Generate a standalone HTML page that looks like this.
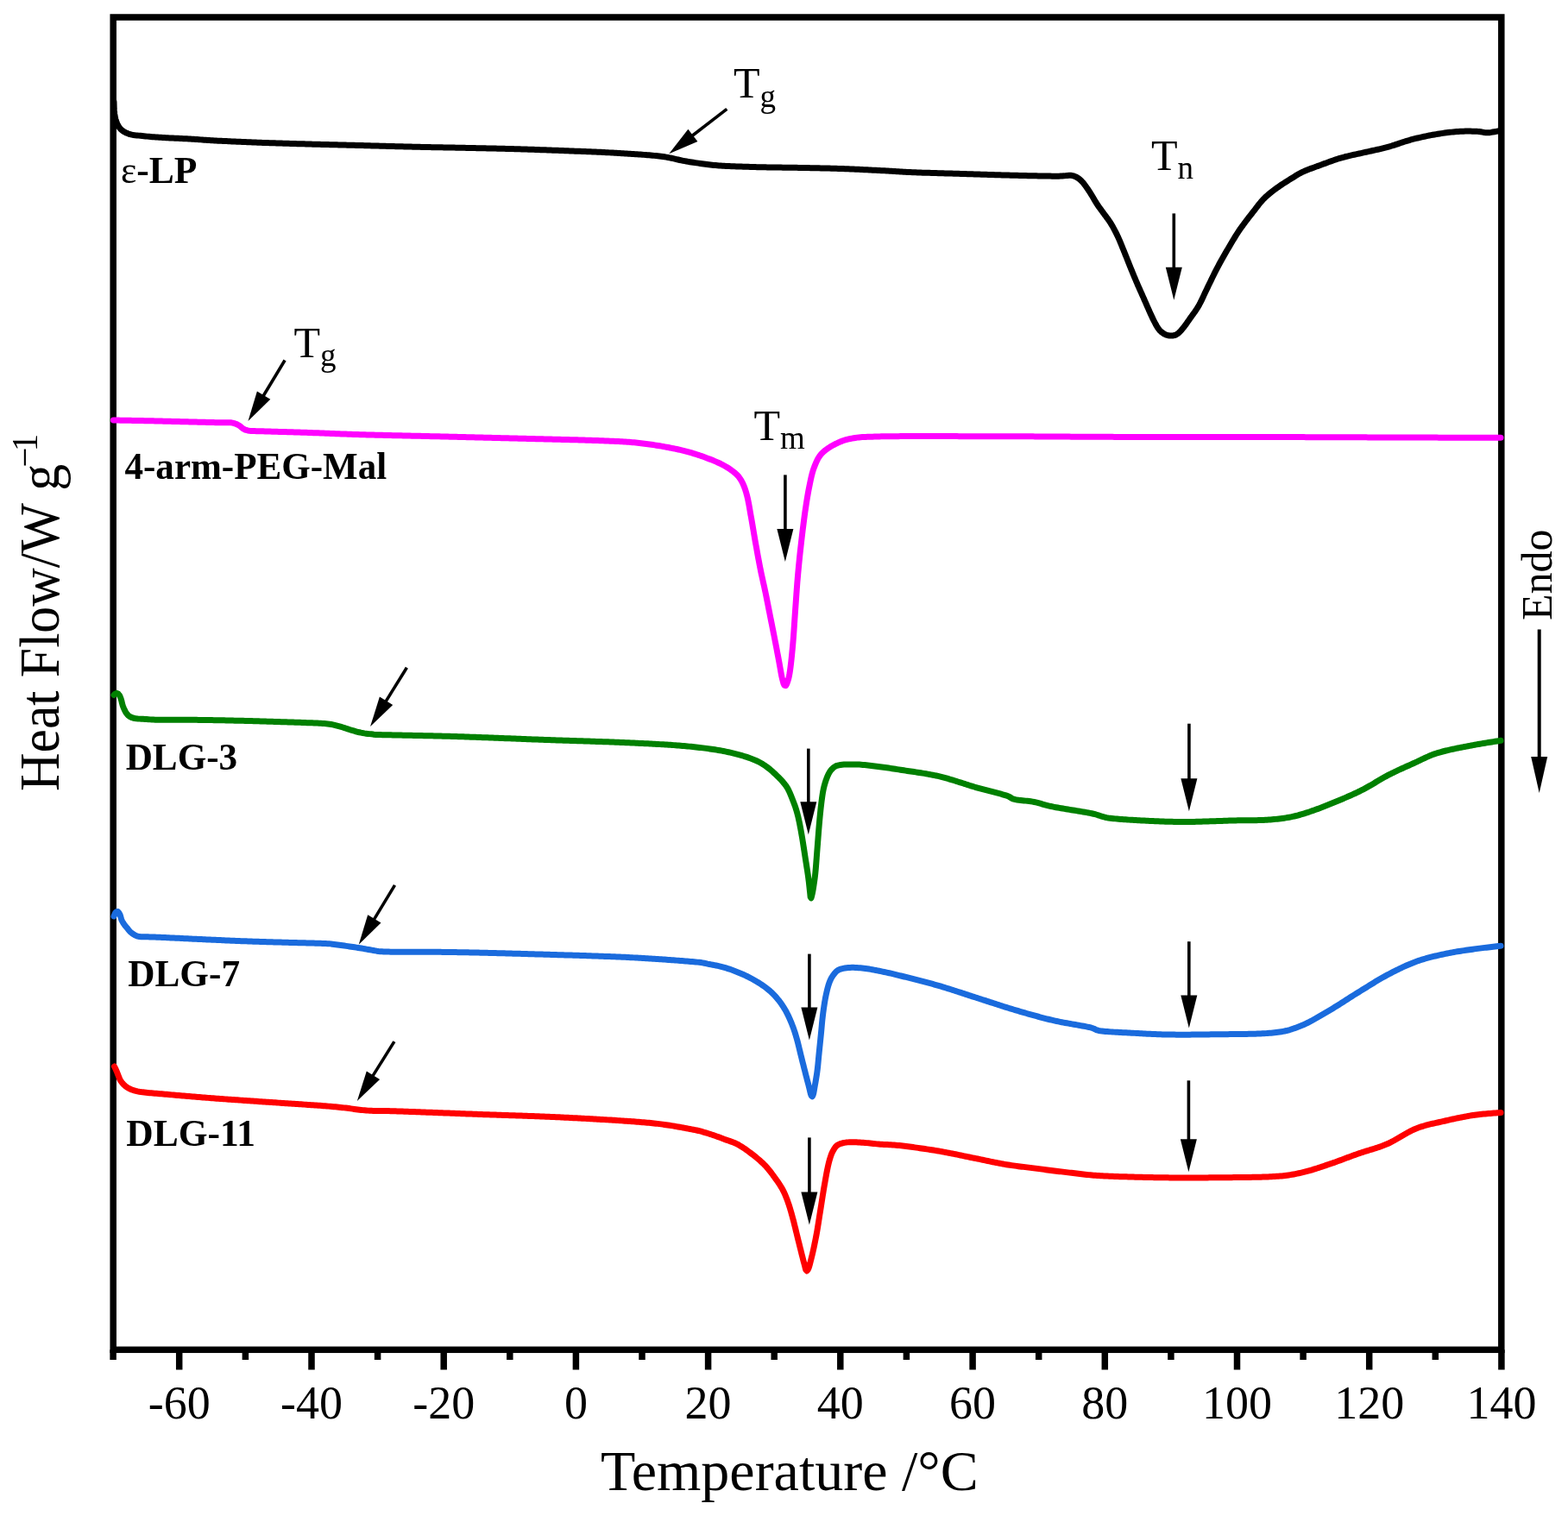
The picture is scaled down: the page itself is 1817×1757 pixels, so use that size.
<!DOCTYPE html>
<html><head><meta charset="utf-8"><style>
html,body{margin:0;padding:0;background:#fff;}
svg{display:block;}
text{font-family:"Liberation Serif","Times New Roman",serif;fill:#000;}
.tl{font-size:54px;}
.lb{font-size:45px;font-weight:bold;}
.tt{font-size:50px;}
.sub{font-size:37px;}
.xt{font-size:66px;}
.yt{font-size:65px;}
.sup{font-size:43px;}
.endo{font-size:50px;}
</style></head><body>
<svg width="1817" height="1757" viewBox="0 0 1817 1757" xmlns="http://www.w3.org/2000/svg">
<rect width="1817" height="1757" fill="#fff"/>
<rect x="131.2" y="20.0" width="1608.6" height="1544.3" fill="none" stroke="#000" stroke-width="7.5"/><line x1="131.1" y1="1564.3" x2="131.1" y2="1576.0" stroke="#000" stroke-width="7.5"/><line x1="207.7" y1="1564.3" x2="207.7" y2="1587.5" stroke="#000" stroke-width="7.5"/><line x1="284.4" y1="1564.3" x2="284.4" y2="1576.0" stroke="#000" stroke-width="7.5"/><line x1="361.0" y1="1564.3" x2="361.0" y2="1587.5" stroke="#000" stroke-width="7.5"/><line x1="437.6" y1="1564.3" x2="437.6" y2="1576.0" stroke="#000" stroke-width="7.5"/><line x1="514.2" y1="1564.3" x2="514.2" y2="1587.5" stroke="#000" stroke-width="7.5"/><line x1="590.8" y1="1564.3" x2="590.8" y2="1576.0" stroke="#000" stroke-width="7.5"/><line x1="667.4" y1="1564.3" x2="667.4" y2="1587.5" stroke="#000" stroke-width="7.5"/><line x1="744.0" y1="1564.3" x2="744.0" y2="1576.0" stroke="#000" stroke-width="7.5"/><line x1="820.6" y1="1564.3" x2="820.6" y2="1587.5" stroke="#000" stroke-width="7.5"/><line x1="897.2" y1="1564.3" x2="897.2" y2="1576.0" stroke="#000" stroke-width="7.5"/><line x1="973.8" y1="1564.3" x2="973.8" y2="1587.5" stroke="#000" stroke-width="7.5"/><line x1="1050.4" y1="1564.3" x2="1050.4" y2="1576.0" stroke="#000" stroke-width="7.5"/><line x1="1127.1" y1="1564.3" x2="1127.1" y2="1587.5" stroke="#000" stroke-width="7.5"/><line x1="1203.7" y1="1564.3" x2="1203.7" y2="1576.0" stroke="#000" stroke-width="7.5"/><line x1="1280.3" y1="1564.3" x2="1280.3" y2="1587.5" stroke="#000" stroke-width="7.5"/><line x1="1356.9" y1="1564.3" x2="1356.9" y2="1576.0" stroke="#000" stroke-width="7.5"/><line x1="1433.5" y1="1564.3" x2="1433.5" y2="1587.5" stroke="#000" stroke-width="7.5"/><line x1="1510.1" y1="1564.3" x2="1510.1" y2="1576.0" stroke="#000" stroke-width="7.5"/><line x1="1586.7" y1="1564.3" x2="1586.7" y2="1587.5" stroke="#000" stroke-width="7.5"/><line x1="1663.3" y1="1564.3" x2="1663.3" y2="1576.0" stroke="#000" stroke-width="7.5"/><line x1="1739.9" y1="1564.3" x2="1739.9" y2="1587.5" stroke="#000" stroke-width="7.5"/><text x="207.7" y="1644.3" text-anchor="middle" class="tl">-60</text><text x="361.0" y="1644.3" text-anchor="middle" class="tl">-40</text><text x="514.2" y="1644.3" text-anchor="middle" class="tl">-20</text><text x="667.4" y="1644.3" text-anchor="middle" class="tl">0</text><text x="820.6" y="1644.3" text-anchor="middle" class="tl">20</text><text x="973.8" y="1644.3" text-anchor="middle" class="tl">40</text><text x="1127.1" y="1644.3" text-anchor="middle" class="tl">60</text><text x="1280.3" y="1644.3" text-anchor="middle" class="tl">80</text><text x="1433.5" y="1644.3" text-anchor="middle" class="tl">100</text><text x="1586.7" y="1644.3" text-anchor="middle" class="tl">120</text><text x="1739.9" y="1644.3" text-anchor="middle" class="tl">140</text>
<path d="M132.00,118.00 L132.04,120.00 L132.09,122.00 L132.14,124.00 L132.22,126.00 L132.33,127.99 L132.49,129.99 L132.71,131.98 L132.99,133.96 L133.35,135.92 L133.81,137.87 L134.37,139.79 L135.05,141.67 L135.84,143.51 L136.75,145.29 L137.79,147.00 L138.97,148.61 L140.33,150.08 L141.84,151.38 L143.49,152.51 L145.23,153.49 L147.05,154.33 L148.92,155.03 L150.83,155.61 L152.77,156.09 L154.74,156.45 L156.72,156.72 L158.71,156.94 L160.70,157.14 L162.69,157.34 L164.68,157.54 L166.67,157.73 L168.66,157.92 L170.65,158.11 L172.65,158.29 L174.64,158.47 L176.63,158.64 L178.62,158.80 L180.62,158.95 L182.61,159.10 L184.61,159.23 L186.60,159.36 L188.60,159.48 L190.60,159.59 L192.59,159.70 L194.59,159.80 L196.59,159.90 L198.59,159.99 L200.59,160.08 L202.58,160.17 L204.58,160.26 L206.58,160.35 L208.58,160.44 L210.58,160.54 L212.57,160.63 L214.57,160.72 L216.57,160.82 L218.57,160.92 L220.56,161.03 L222.56,161.15 L224.56,161.27 L226.55,161.41 L228.55,161.55 L230.54,161.71 L232.53,161.87 L234.53,162.03 L236.52,162.19 L238.52,162.33 L240.51,162.47 L242.51,162.59 L244.50,162.71 L246.50,162.82 L248.50,162.93 L250.49,163.03 L252.49,163.13 L254.49,163.23 L256.49,163.33 L258.48,163.43 L260.48,163.52 L262.48,163.62 L264.48,163.71 L266.48,163.80 L268.47,163.89 L270.47,163.98 L272.47,164.07 L274.47,164.16 L276.47,164.25 L278.46,164.34 L280.46,164.42 L282.46,164.51 L284.46,164.59 L286.46,164.67 L288.46,164.76 L290.45,164.84 L292.45,164.92 L294.45,165.00 L296.45,165.08 L298.45,165.15 L300.45,165.23 L302.44,165.30 L304.44,165.38 L306.44,165.45 L308.44,165.52 L310.44,165.59 L312.44,165.66 L314.44,165.73 L316.44,165.79 L318.44,165.86 L320.43,165.92 L322.43,165.99 L324.43,166.05 L326.43,166.11 L328.43,166.17 L330.43,166.23 L332.43,166.29 L334.43,166.35 L336.43,166.41 L338.43,166.47 L340.43,166.53 L342.42,166.58 L344.42,166.64 L346.42,166.70 L348.42,166.75 L350.42,166.81 L352.42,166.86 L354.42,166.92 L356.42,166.97 L358.42,167.02 L360.42,167.08 L362.42,167.13 L364.42,167.18 L366.42,167.23 L368.41,167.28 L370.41,167.34 L372.41,167.39 L374.41,167.44 L376.41,167.49 L378.41,167.54 L380.41,167.59 L382.41,167.64 L384.41,167.69 L386.41,167.74 L388.41,167.79 L390.41,167.84 L392.41,167.89 L394.41,167.94 L396.41,168.00 L398.41,168.05 L400.40,168.10 L402.40,168.15 L404.40,168.20 L406.40,168.25 L408.40,168.30 L410.40,168.35 L412.40,168.40 L414.40,168.45 L416.40,168.51 L418.40,168.56 L420.40,168.61 L422.40,168.66 L424.40,168.72 L426.40,168.77 L428.39,168.83 L430.39,168.88 L432.39,168.94 L434.39,168.99 L436.39,169.05 L438.39,169.11 L440.39,169.17 L442.39,169.22 L444.39,169.28 L446.39,169.34 L448.39,169.39 L450.39,169.45 L452.39,169.51 L454.38,169.56 L456.38,169.61 L458.38,169.67 L460.38,169.72 L462.38,169.77 L464.38,169.82 L466.38,169.87 L468.38,169.92 L470.38,169.97 L472.38,170.02 L474.38,170.07 L476.38,170.12 L478.38,170.16 L480.38,170.21 L482.38,170.25 L484.38,170.30 L486.38,170.34 L488.37,170.38 L490.37,170.42 L492.37,170.47 L494.37,170.51 L496.37,170.55 L498.37,170.59 L500.37,170.63 L502.37,170.67 L504.37,170.70 L506.37,170.74 L508.37,170.78 L510.37,170.82 L512.37,170.86 L514.37,170.90 L516.37,170.93 L518.37,170.97 L520.37,171.01 L522.37,171.05 L524.37,171.09 L526.37,171.12 L528.37,171.16 L530.37,171.20 L532.37,171.24 L534.37,171.28 L536.37,171.32 L538.37,171.36 L540.36,171.39 L542.36,171.43 L544.36,171.47 L546.36,171.51 L548.36,171.55 L550.36,171.59 L552.36,171.63 L554.36,171.67 L556.36,171.72 L558.36,171.76 L560.36,171.80 L562.36,171.84 L564.36,171.88 L566.36,171.93 L568.36,171.97 L570.36,172.02 L572.36,172.06 L574.36,172.11 L576.36,172.16 L578.36,172.20 L580.36,172.25 L582.35,172.30 L584.35,172.35 L586.35,172.40 L588.35,172.46 L590.35,172.51 L592.35,172.57 L594.35,172.62 L596.35,172.68 L598.35,172.74 L600.35,172.80 L602.35,172.86 L604.35,172.92 L606.35,172.98 L608.34,173.04 L610.34,173.10 L612.34,173.17 L614.34,173.23 L616.34,173.30 L618.34,173.36 L620.34,173.43 L622.34,173.50 L624.34,173.57 L626.33,173.64 L628.33,173.71 L630.33,173.78 L632.33,173.85 L634.33,173.92 L636.33,173.99 L638.33,174.06 L640.33,174.14 L642.32,174.21 L644.32,174.29 L646.32,174.36 L648.32,174.44 L650.32,174.51 L652.32,174.59 L654.32,174.66 L656.31,174.74 L658.31,174.82 L660.31,174.90 L662.31,174.98 L664.31,175.05 L666.31,175.13 L668.30,175.21 L670.30,175.29 L672.30,175.37 L674.30,175.45 L676.30,175.53 L678.30,175.61 L680.30,175.69 L682.29,175.77 L684.29,175.86 L686.29,175.94 L688.29,176.02 L690.29,176.11 L692.28,176.19 L694.28,176.28 L696.28,176.37 L698.28,176.47 L700.28,176.56 L702.27,176.66 L704.27,176.76 L706.27,176.87 L708.27,176.98 L710.26,177.09 L712.26,177.20 L714.26,177.32 L716.25,177.44 L718.25,177.56 L720.24,177.69 L722.24,177.82 L724.24,177.94 L726.23,178.07 L728.23,178.19 L730.22,178.32 L732.22,178.44 L734.22,178.57 L736.21,178.70 L738.21,178.83 L740.20,178.97 L742.20,179.10 L744.19,179.24 L746.19,179.38 L748.18,179.53 L750.18,179.69 L752.17,179.84 L754.16,180.01 L756.16,180.18 L758.15,180.37 L760.14,180.56 L762.13,180.77 L764.12,180.99 L766.10,181.23 L768.08,181.50 L770.06,181.79 L772.04,182.11 L774.00,182.47 L775.97,182.85 L777.93,183.25 L779.88,183.68 L781.83,184.12 L783.78,184.57 L785.73,185.03 L787.68,185.47 L789.63,185.90 L791.59,186.31 L793.55,186.68 L795.52,187.04 L797.49,187.38 L799.47,187.70 L801.44,188.01 L803.42,188.31 L805.40,188.60 L807.38,188.88 L809.36,189.15 L811.34,189.41 L813.32,189.68 L815.31,189.95 L817.29,190.23 L819.27,190.50 L821.25,190.75 L823.24,191.00 L825.22,191.22 L827.21,191.42 L829.21,191.60 L831.20,191.77 L833.19,191.91 L835.19,192.05 L837.19,192.17 L839.18,192.28 L841.18,192.38 L843.18,192.48 L845.18,192.57 L847.17,192.66 L849.17,192.74 L851.17,192.82 L853.17,192.90 L855.17,192.97 L857.17,193.04 L859.16,193.11 L861.16,193.18 L863.16,193.24 L865.16,193.30 L867.16,193.36 L869.16,193.42 L871.16,193.48 L873.16,193.53 L875.16,193.59 L877.16,193.64 L879.16,193.68 L881.16,193.73 L883.16,193.77 L885.16,193.81 L887.16,193.84 L889.15,193.88 L891.15,193.91 L893.15,193.94 L895.15,193.97 L897.15,194.00 L899.15,194.02 L901.15,194.05 L903.15,194.08 L905.15,194.10 L907.15,194.13 L909.15,194.15 L911.15,194.18 L913.15,194.21 L915.15,194.24 L917.15,194.27 L919.15,194.30 L921.15,194.33 L923.15,194.37 L925.15,194.40 L927.15,194.44 L929.15,194.48 L931.15,194.51 L933.15,194.55 L935.15,194.59 L937.15,194.62 L939.15,194.66 L941.15,194.69 L943.15,194.73 L945.15,194.77 L947.15,194.81 L949.15,194.84 L951.15,194.88 L953.15,194.93 L955.15,194.97 L957.15,195.01 L959.14,195.06 L961.14,195.11 L963.14,195.16 L965.14,195.21 L967.14,195.27 L969.14,195.33 L971.14,195.39 L973.14,195.45 L975.14,195.52 L977.14,195.59 L979.14,195.67 L981.13,195.74 L983.13,195.82 L985.13,195.91 L987.13,195.99 L989.13,196.08 L991.12,196.17 L993.12,196.26 L995.12,196.35 L997.12,196.45 L999.12,196.54 L1001.11,196.64 L1003.11,196.74 L1005.11,196.84 L1007.11,196.94 L1009.10,197.04 L1011.10,197.14 L1013.10,197.24 L1015.10,197.34 L1017.09,197.45 L1019.09,197.55 L1021.09,197.65 L1023.09,197.75 L1025.08,197.86 L1027.08,197.97 L1029.08,198.08 L1031.07,198.20 L1033.07,198.32 L1035.07,198.44 L1037.06,198.57 L1039.06,198.70 L1041.05,198.83 L1043.05,198.96 L1045.04,199.08 L1047.04,199.20 L1049.04,199.31 L1051.04,199.42 L1053.03,199.52 L1055.03,199.61 L1057.03,199.70 L1059.03,199.78 L1061.03,199.86 L1063.02,199.93 L1065.02,200.00 L1067.02,200.07 L1069.02,200.13 L1071.02,200.19 L1073.02,200.26 L1075.02,200.32 L1077.02,200.37 L1079.02,200.43 L1081.02,200.49 L1083.01,200.54 L1085.01,200.60 L1087.01,200.66 L1089.01,200.71 L1091.01,200.77 L1093.01,200.82 L1095.01,200.88 L1097.01,200.94 L1099.01,200.99 L1101.01,201.05 L1103.01,201.11 L1105.01,201.17 L1107.01,201.23 L1109.00,201.29 L1111.00,201.35 L1113.00,201.42 L1115.00,201.48 L1117.00,201.54 L1119.00,201.61 L1121.00,201.67 L1123.00,201.73 L1125.00,201.80 L1127.00,201.86 L1128.99,201.92 L1130.99,201.99 L1132.99,202.05 L1134.99,202.11 L1136.99,202.18 L1138.99,202.24 L1140.99,202.30 L1142.99,202.36 L1144.99,202.43 L1146.99,202.49 L1148.98,202.55 L1150.98,202.61 L1152.98,202.67 L1154.98,202.73 L1156.98,202.79 L1158.98,202.84 L1160.98,202.90 L1162.98,202.96 L1164.98,203.01 L1166.98,203.07 L1168.98,203.12 L1170.98,203.17 L1172.97,203.22 L1174.97,203.27 L1176.97,203.32 L1178.97,203.37 L1180.97,203.42 L1182.97,203.47 L1184.97,203.51 L1186.97,203.56 L1188.97,203.60 L1190.97,203.65 L1192.97,203.69 L1194.97,203.73 L1196.97,203.77 L1198.97,203.82 L1200.97,203.86 L1202.97,203.89 L1204.97,203.93 L1206.97,203.97 L1208.97,204.00 L1210.97,204.04 L1212.97,204.07 L1214.97,204.10 L1216.97,204.12 L1218.97,204.15 L1220.97,204.17 L1222.97,204.19 L1224.97,204.18 L1226.96,204.16 L1228.96,204.10 L1230.96,204.01 L1232.96,203.85 L1234.94,203.60 L1236.93,203.39 L1238.92,203.27 L1240.92,203.30 L1242.90,203.59 L1244.82,204.15 L1246.66,204.94 L1248.42,205.89 L1250.08,207.00 L1251.63,208.25 L1253.09,209.63 L1254.46,211.08 L1255.75,212.61 L1256.97,214.19 L1258.15,215.81 L1259.31,217.44 L1260.44,219.09 L1261.56,220.74 L1262.67,222.41 L1263.75,224.09 L1264.81,225.79 L1265.84,227.50 L1266.86,229.22 L1267.87,230.95 L1268.88,232.67 L1269.91,234.39 L1270.97,236.08 L1272.07,237.76 L1273.20,239.41 L1274.36,241.04 L1275.53,242.66 L1276.71,244.27 L1277.89,245.89 L1279.07,247.50 L1280.26,249.11 L1281.46,250.71 L1282.66,252.31 L1283.84,253.92 L1284.99,255.56 L1286.11,257.21 L1287.19,258.90 L1288.23,260.61 L1289.24,262.34 L1290.21,264.08 L1291.16,265.84 L1292.09,267.61 L1293.00,269.39 L1293.89,271.18 L1294.76,272.98 L1295.62,274.79 L1296.44,276.61 L1297.25,278.45 L1298.04,280.28 L1298.81,282.13 L1299.56,283.98 L1300.31,285.83 L1301.06,287.69 L1301.81,289.55 L1302.56,291.40 L1303.31,293.25 L1304.05,295.11 L1304.80,296.97 L1305.54,298.82 L1306.28,300.68 L1307.01,302.54 L1307.75,304.40 L1308.49,306.26 L1309.24,308.11 L1309.99,309.97 L1310.75,311.82 L1311.50,313.67 L1312.26,315.52 L1313.02,317.37 L1313.79,319.22 L1314.56,321.06 L1315.33,322.91 L1316.11,324.75 L1316.89,326.59 L1317.68,328.43 L1318.47,330.27 L1319.27,332.10 L1320.08,333.93 L1320.89,335.76 L1321.71,337.58 L1322.53,339.41 L1323.35,341.23 L1324.16,343.06 L1324.98,344.88 L1325.79,346.71 L1326.59,348.54 L1327.39,350.38 L1328.18,352.21 L1328.98,354.05 L1329.78,355.88 L1330.58,357.71 L1331.40,359.54 L1332.22,361.36 L1333.05,363.18 L1333.88,365.00 L1334.72,366.82 L1335.58,368.62 L1336.45,370.42 L1337.35,372.21 L1338.27,373.99 L1339.21,375.75 L1340.17,377.50 L1341.19,379.23 L1342.28,380.90 L1343.50,382.48 L1344.88,383.93 L1346.39,385.24 L1348.03,386.39 L1349.76,387.38 L1351.60,388.18 L1353.51,388.74 L1355.49,389.04 L1357.49,389.11 L1359.48,388.93 L1361.42,388.48 L1363.26,387.69 L1364.93,386.60 L1366.44,385.29 L1367.84,383.86 L1369.17,382.37 L1370.46,380.84 L1371.72,379.28 L1372.93,377.69 L1374.11,376.08 L1375.26,374.44 L1376.40,372.80 L1377.55,371.16 L1378.70,369.52 L1379.86,367.90 L1381.04,366.28 L1382.21,364.66 L1383.38,363.04 L1384.53,361.40 L1385.66,359.75 L1386.76,358.08 L1387.83,356.39 L1388.85,354.67 L1389.84,352.93 L1390.78,351.17 L1391.68,349.38 L1392.56,347.59 L1393.42,345.78 L1394.27,343.97 L1395.11,342.15 L1395.95,340.34 L1396.79,338.53 L1397.65,336.72 L1398.51,334.91 L1399.38,333.11 L1400.25,331.31 L1401.12,329.51 L1401.99,327.71 L1402.86,325.91 L1403.73,324.11 L1404.61,322.31 L1405.49,320.51 L1406.37,318.72 L1407.26,316.93 L1408.15,315.14 L1409.06,313.35 L1409.97,311.58 L1410.90,309.81 L1411.84,308.04 L1412.79,306.28 L1413.75,304.53 L1414.72,302.78 L1415.70,301.03 L1416.69,299.29 L1417.68,297.56 L1418.67,295.82 L1419.67,294.08 L1420.66,292.35 L1421.66,290.62 L1422.66,288.88 L1423.66,287.16 L1424.67,285.43 L1425.68,283.70 L1426.70,281.98 L1427.73,280.26 L1428.76,278.55 L1429.80,276.84 L1430.84,275.13 L1431.89,273.43 L1432.94,271.73 L1434.01,270.04 L1435.11,268.37 L1436.23,266.71 L1437.37,265.07 L1438.52,263.44 L1439.70,261.82 L1440.88,260.21 L1442.08,258.61 L1443.29,257.01 L1444.50,255.42 L1445.71,253.83 L1446.93,252.24 L1448.16,250.66 L1449.39,249.09 L1450.62,247.51 L1451.85,245.93 L1453.07,244.35 L1454.29,242.77 L1455.51,241.18 L1456.72,239.59 L1457.95,238.01 L1459.19,236.44 L1460.46,234.89 L1461.75,233.37 L1463.08,231.88 L1464.45,230.42 L1465.87,229.01 L1467.32,227.63 L1468.81,226.30 L1470.33,225.00 L1471.88,223.73 L1473.44,222.49 L1475.03,221.27 L1476.63,220.06 L1478.23,218.87 L1479.85,217.70 L1481.48,216.54 L1483.12,215.39 L1484.77,214.26 L1486.44,213.16 L1488.11,212.06 L1489.80,210.99 L1491.49,209.92 L1493.18,208.86 L1494.88,207.81 L1496.59,206.75 L1498.29,205.70 L1499.99,204.65 L1501.69,203.60 L1503.40,202.56 L1505.12,201.55 L1506.88,200.59 L1508.66,199.69 L1510.47,198.83 L1512.30,198.02 L1514.15,197.26 L1516.01,196.53 L1517.88,195.82 L1519.75,195.12 L1521.63,194.44 L1523.52,193.76 L1525.40,193.08 L1527.27,192.39 L1529.15,191.70 L1531.03,191.01 L1532.90,190.31 L1534.77,189.61 L1536.65,188.91 L1538.53,188.22 L1540.40,187.53 L1542.29,186.86 L1544.17,186.19 L1546.06,185.53 L1547.95,184.89 L1549.86,184.27 L1551.76,183.67 L1553.68,183.09 L1555.60,182.54 L1557.53,182.01 L1559.46,181.51 L1561.41,181.03 L1563.35,180.56 L1565.30,180.12 L1567.25,179.68 L1569.21,179.25 L1571.16,178.83 L1573.12,178.41 L1575.07,177.99 L1577.03,177.56 L1578.98,177.13 L1580.93,176.69 L1582.88,176.25 L1584.83,175.82 L1586.79,175.39 L1588.74,174.96 L1590.70,174.54 L1592.65,174.12 L1594.60,173.69 L1596.56,173.26 L1598.51,172.82 L1600.46,172.36 L1602.40,171.90 L1604.34,171.42 L1606.28,170.92 L1608.21,170.39 L1610.13,169.85 L1612.05,169.27 L1613.96,168.68 L1615.86,168.07 L1617.76,167.44 L1619.66,166.81 L1621.55,166.17 L1623.45,165.53 L1625.35,164.90 L1627.25,164.28 L1629.16,163.67 L1631.07,163.09 L1632.99,162.53 L1634.91,161.99 L1636.84,161.47 L1638.78,160.97 L1640.72,160.48 L1642.66,160.00 L1644.61,159.54 L1646.56,159.09 L1648.51,158.65 L1650.46,158.22 L1652.42,157.81 L1654.38,157.41 L1656.34,157.02 L1658.30,156.65 L1660.27,156.28 L1662.24,155.93 L1664.21,155.59 L1666.19,155.27 L1668.16,154.96 L1670.14,154.65 L1672.12,154.37 L1674.10,154.09 L1676.08,153.83 L1678.06,153.58 L1680.05,153.35 L1682.04,153.13 L1684.03,152.92 L1686.02,152.74 L1688.01,152.58 L1690.01,152.44 L1692.01,152.32 L1694.00,152.23 L1696.00,152.17 L1698.00,152.12 L1700.00,152.10 L1702.00,152.09 L1704.00,152.10 L1706.00,152.13 L1708.00,152.17 L1710.00,152.24 L1712.00,152.36 L1713.99,152.55 L1715.97,152.82 L1717.94,153.17 L1719.91,153.53 L1721.89,153.77 L1723.89,153.81 L1725.88,153.66 L1727.86,153.38 L1729.84,153.05 L1731.81,152.71 L1733.78,152.38 L1735.75,152.05 L1737.72,151.72 L1739.00,151.50" fill="none" stroke="#000" stroke-width="7.0" stroke-linejoin="round" stroke-linecap="round"/><path d="M131.50,487.00 L133.50,487.04 L135.50,487.07 L137.50,487.11 L139.50,487.14 L141.50,487.18 L143.50,487.21 L145.50,487.25 L147.50,487.28 L149.50,487.32 L151.50,487.35 L153.50,487.39 L155.50,487.43 L157.50,487.46 L159.50,487.50 L161.50,487.54 L163.49,487.58 L165.49,487.62 L167.49,487.65 L169.49,487.70 L171.49,487.74 L173.49,487.78 L175.49,487.82 L177.49,487.87 L179.49,487.91 L181.49,487.96 L183.49,488.00 L185.49,488.05 L187.49,488.10 L189.49,488.15 L191.49,488.19 L193.49,488.24 L195.49,488.29 L197.49,488.34 L199.49,488.39 L201.48,488.44 L203.48,488.49 L205.48,488.54 L207.48,488.59 L209.48,488.64 L211.48,488.69 L213.48,488.74 L215.48,488.79 L217.48,488.84 L219.48,488.89 L221.48,488.94 L223.48,488.99 L225.48,489.04 L227.48,489.08 L229.48,489.13 L231.48,489.18 L233.48,489.23 L235.47,489.28 L237.47,489.33 L239.47,489.38 L241.47,489.43 L243.47,489.48 L245.47,489.53 L247.47,489.58 L249.47,489.63 L251.47,489.68 L253.47,489.72 L255.47,489.77 L257.47,489.81 L259.47,489.83 L261.47,489.81 L263.47,489.76 L265.47,489.71 L267.46,489.83 L269.44,490.15 L271.38,490.62 L273.27,491.27 L275.10,492.06 L276.87,493.00 L278.49,494.17 L280.03,495.44 L281.62,496.66 L283.34,497.67 L285.18,498.45 L287.12,498.93 L289.10,499.20 L291.09,499.40 L293.09,499.53 L295.09,499.60 L297.08,499.65 L299.08,499.70 L301.08,499.74 L303.08,499.80 L305.08,499.85 L307.08,499.92 L309.08,499.98 L311.08,500.04 L313.08,500.10 L315.08,500.16 L317.08,500.21 L319.08,500.27 L321.08,500.33 L323.07,500.39 L325.07,500.45 L327.07,500.50 L329.07,500.56 L331.07,500.62 L333.07,500.68 L335.07,500.74 L337.07,500.80 L339.07,500.86 L341.07,500.92 L343.07,500.98 L345.06,501.04 L347.06,501.11 L349.06,501.17 L351.06,501.23 L353.06,501.30 L355.06,501.37 L357.06,501.43 L359.06,501.50 L361.06,501.57 L363.05,501.65 L365.05,501.72 L367.05,501.80 L369.05,501.87 L371.05,501.95 L373.05,502.03 L375.05,502.11 L377.04,502.19 L379.04,502.27 L381.04,502.35 L383.04,502.43 L385.04,502.50 L387.04,502.58 L389.03,502.66 L391.03,502.74 L393.03,502.81 L395.03,502.89 L397.03,502.96 L399.03,503.04 L401.03,503.11 L403.02,503.18 L405.02,503.25 L407.02,503.32 L409.02,503.39 L411.02,503.46 L413.02,503.52 L415.02,503.58 L417.02,503.65 L419.02,503.71 L421.02,503.77 L423.01,503.82 L425.01,503.88 L427.01,503.94 L429.01,503.99 L431.01,504.04 L433.01,504.10 L435.01,504.15 L437.01,504.20 L439.01,504.25 L441.01,504.30 L443.01,504.35 L445.01,504.40 L447.01,504.45 L449.01,504.49 L451.01,504.54 L453.00,504.59 L455.00,504.63 L457.00,504.68 L459.00,504.73 L461.00,504.77 L463.00,504.82 L465.00,504.86 L467.00,504.91 L469.00,504.95 L471.00,505.00 L473.00,505.04 L475.00,505.09 L477.00,505.13 L479.00,505.18 L481.00,505.22 L483.00,505.27 L485.00,505.31 L487.00,505.36 L489.00,505.40 L490.99,505.45 L492.99,505.49 L494.99,505.54 L496.99,505.58 L498.99,505.63 L500.99,505.67 L502.99,505.72 L504.99,505.77 L506.99,505.81 L508.99,505.86 L510.99,505.91 L512.99,505.95 L514.99,506.00 L516.99,506.05 L518.99,506.10 L520.99,506.15 L522.99,506.20 L524.99,506.25 L526.98,506.30 L528.98,506.35 L530.98,506.40 L532.98,506.44 L534.98,506.49 L536.98,506.54 L538.98,506.59 L540.98,506.64 L542.98,506.69 L544.98,506.74 L546.98,506.79 L548.98,506.84 L550.98,506.89 L552.98,506.94 L554.98,506.99 L556.98,507.04 L558.97,507.09 L560.97,507.14 L562.97,507.19 L564.97,507.24 L566.97,507.29 L568.97,507.35 L570.97,507.40 L572.97,507.45 L574.97,507.50 L576.97,507.55 L578.97,507.60 L580.97,507.65 L582.97,507.70 L584.97,507.75 L586.97,507.80 L588.97,507.85 L590.96,507.90 L592.96,507.96 L594.96,508.01 L596.96,508.06 L598.96,508.11 L600.96,508.16 L602.96,508.21 L604.96,508.26 L606.96,508.31 L608.96,508.37 L610.96,508.42 L612.96,508.47 L614.96,508.52 L616.96,508.57 L618.96,508.62 L620.95,508.68 L622.95,508.73 L624.95,508.78 L626.95,508.83 L628.95,508.87 L630.95,508.92 L632.95,508.97 L634.95,509.02 L636.95,509.07 L638.95,509.11 L640.95,509.16 L642.95,509.21 L644.95,509.25 L646.95,509.30 L648.95,509.35 L650.95,509.39 L652.95,509.44 L654.95,509.49 L656.94,509.54 L658.94,509.58 L660.94,509.63 L662.94,509.68 L664.94,509.73 L666.94,509.79 L668.94,509.84 L670.94,509.89 L672.94,509.95 L674.94,510.01 L676.94,510.07 L678.94,510.13 L680.94,510.19 L682.93,510.25 L684.93,510.32 L686.93,510.39 L688.93,510.47 L690.93,510.54 L692.93,510.62 L694.93,510.70 L696.92,510.78 L698.92,510.86 L700.92,510.93 L702.92,511.01 L704.92,511.09 L706.92,511.16 L708.92,511.24 L710.91,511.32 L712.91,511.41 L714.91,511.50 L716.91,511.59 L718.91,511.70 L720.90,511.80 L722.90,511.92 L724.89,512.05 L726.89,512.18 L728.88,512.33 L730.88,512.49 L732.87,512.66 L734.86,512.84 L736.85,513.04 L738.84,513.25 L740.83,513.47 L742.82,513.70 L744.80,513.94 L746.79,514.19 L748.77,514.45 L750.75,514.71 L752.73,514.99 L754.71,515.27 L756.69,515.57 L758.67,515.87 L760.64,516.17 L762.62,516.49 L764.59,516.81 L766.57,517.15 L768.54,517.49 L770.51,517.84 L772.47,518.19 L774.44,518.56 L776.40,518.94 L778.37,519.32 L780.33,519.72 L782.28,520.12 L784.24,520.54 L786.19,520.97 L788.15,521.41 L790.09,521.86 L792.04,522.33 L793.98,522.82 L795.91,523.32 L797.84,523.85 L799.77,524.39 L801.69,524.95 L803.60,525.53 L805.51,526.12 L807.42,526.73 L809.32,527.36 L811.21,528.00 L813.10,528.65 L814.99,529.32 L816.86,530.01 L818.74,530.70 L820.61,531.41 L822.47,532.13 L824.34,532.87 L826.19,533.61 L828.04,534.37 L829.89,535.14 L831.72,535.94 L833.54,536.77 L835.34,537.64 L837.13,538.54 L838.89,539.49 L840.63,540.47 L842.35,541.49 L844.04,542.56 L845.71,543.66 L847.35,544.81 L848.97,545.98 L850.56,547.19 L852.11,548.46 L853.58,549.81 L854.96,551.26 L856.23,552.80 L857.39,554.43 L858.47,556.11 L859.48,557.84 L860.42,559.61 L861.27,561.42 L862.05,563.26 L862.77,565.12 L863.43,567.01 L864.04,568.91 L864.62,570.83 L865.16,572.75 L865.68,574.69 L866.16,576.63 L866.60,578.58 L867.01,580.54 L867.40,582.50 L867.77,584.46 L868.13,586.43 L868.48,588.40 L868.82,590.37 L869.16,592.34 L869.50,594.31 L869.84,596.28 L870.19,598.25 L870.54,600.22 L870.89,602.19 L871.24,604.16 L871.58,606.13 L871.92,608.10 L872.26,610.07 L872.59,612.05 L872.92,614.02 L873.26,615.99 L873.59,617.96 L873.92,619.93 L874.26,621.91 L874.59,623.88 L874.93,625.85 L875.28,627.82 L875.63,629.79 L875.98,631.76 L876.33,633.72 L876.69,635.69 L877.04,637.66 L877.40,639.63 L877.75,641.60 L878.11,643.56 L878.48,645.53 L878.84,647.50 L879.21,649.46 L879.58,651.43 L879.95,653.39 L880.33,655.36 L880.71,657.32 L881.10,659.28 L881.49,661.24 L881.89,663.20 L882.30,665.16 L882.72,667.12 L883.15,669.07 L883.58,671.02 L884.02,672.98 L884.45,674.93 L884.89,676.88 L885.32,678.83 L885.76,680.78 L886.18,682.74 L886.60,684.69 L887.01,686.65 L887.42,688.61 L887.82,690.57 L888.21,692.53 L888.61,694.49 L889.00,696.45 L889.39,698.41 L889.78,700.38 L890.16,702.34 L890.55,704.30 L890.93,706.26 L891.32,708.23 L891.71,710.19 L892.09,712.15 L892.48,714.11 L892.87,716.07 L893.26,718.03 L893.66,720.00 L894.05,721.96 L894.44,723.92 L894.83,725.88 L895.22,727.84 L895.61,729.80 L896.00,731.76 L896.39,733.73 L896.78,735.69 L897.17,737.65 L897.56,739.61 L897.94,741.57 L898.32,743.54 L898.71,745.50 L899.09,747.46 L899.46,749.43 L899.84,751.39 L900.22,753.36 L900.59,755.32 L900.97,757.29 L901.34,759.25 L901.71,761.22 L902.08,763.18 L902.45,765.15 L902.82,767.11 L903.18,769.08 L903.53,771.05 L903.87,773.02 L904.21,774.99 L904.55,776.96 L904.89,778.93 L905.24,780.90 L905.62,782.87 L906.03,784.82 L906.49,786.77 L906.98,788.71 L907.51,790.64 L908.13,792.54 L908.96,794.35 L910.54,794.64 L911.57,792.94 L912.31,791.08 L912.94,789.18 L913.51,787.27 L914.01,785.33 L914.44,783.38 L914.82,781.41 L915.15,779.44 L915.45,777.47 L915.73,775.49 L916.00,773.50 L916.24,771.52 L916.48,769.53 L916.71,767.54 L916.93,765.56 L917.14,763.57 L917.35,761.58 L917.55,759.59 L917.75,757.60 L917.94,755.61 L918.13,753.62 L918.32,751.63 L918.50,749.63 L918.67,747.64 L918.84,745.65 L919.01,743.66 L919.17,741.66 L919.33,739.67 L919.48,737.67 L919.62,735.68 L919.77,733.69 L919.91,731.69 L920.05,729.69 L920.18,727.70 L920.32,725.70 L920.45,723.71 L920.58,721.71 L920.72,719.72 L920.85,717.72 L920.98,715.73 L921.12,713.73 L921.25,711.74 L921.39,709.74 L921.53,707.75 L921.67,705.75 L921.82,703.76 L921.96,701.76 L922.10,699.77 L922.24,697.77 L922.38,695.78 L922.52,693.78 L922.66,691.78 L922.80,689.79 L922.94,687.79 L923.09,685.80 L923.23,683.81 L923.38,681.81 L923.53,679.82 L923.68,677.82 L923.83,675.83 L923.99,673.83 L924.16,671.84 L924.32,669.85 L924.50,667.86 L924.67,665.86 L924.85,663.87 L925.03,661.88 L925.22,659.89 L925.41,657.90 L925.60,655.91 L925.79,653.92 L925.99,651.93 L926.19,649.94 L926.39,647.95 L926.59,645.96 L926.80,643.97 L927.01,641.98 L927.22,639.99 L927.44,638.00 L927.65,636.01 L927.87,634.02 L928.09,632.04 L928.32,630.05 L928.54,628.06 L928.77,626.08 L929.00,624.09 L929.23,622.10 L929.47,620.12 L929.71,618.13 L929.95,616.14 L930.19,614.16 L930.43,612.17 L930.68,610.19 L930.93,608.20 L931.18,606.22 L931.44,604.24 L931.69,602.25 L931.96,600.27 L932.22,598.29 L932.49,596.31 L932.77,594.33 L933.05,592.35 L933.34,590.37 L933.63,588.39 L933.92,586.41 L934.22,584.43 L934.52,582.46 L934.84,580.48 L935.16,578.51 L935.48,576.53 L935.82,574.56 L936.16,572.59 L936.52,570.62 L936.88,568.66 L937.26,566.69 L937.65,564.73 L938.05,562.77 L938.45,560.81 L938.84,558.85 L939.25,556.89 L939.67,554.94 L940.10,552.98 L940.57,551.04 L941.06,549.10 L941.59,547.17 L942.17,545.26 L942.80,543.36 L943.50,541.49 L944.22,539.62 L944.96,537.76 L945.74,535.92 L946.58,534.10 L947.48,532.32 L948.48,530.59 L949.57,528.91 L950.76,527.31 L952.06,525.78 L953.45,524.35 L954.94,523.01 L956.49,521.75 L958.09,520.56 L959.74,519.42 L961.42,518.34 L963.13,517.30 L964.86,516.30 L966.62,515.34 L968.39,514.42 L970.18,513.53 L971.99,512.67 L973.83,511.88 L975.69,511.16 L977.59,510.52 L979.50,509.93 L981.43,509.41 L983.37,508.94 L985.33,508.51 L987.29,508.13 L989.26,507.77 L991.23,507.43 L993.21,507.13 L995.19,506.89 L997.18,506.71 L999.18,506.58 L1001.18,506.49 L1003.18,506.42 L1005.17,506.35 L1007.17,506.29 L1009.17,506.23 L1011.17,506.16 L1013.17,506.09 L1015.17,506.02 L1017.17,505.95 L1019.17,505.89 L1021.17,505.84 L1023.17,505.80 L1025.17,505.76 L1027.17,505.74 L1029.17,505.71 L1031.17,505.69 L1033.17,505.68 L1035.16,505.66 L1037.16,505.65 L1039.16,505.64 L1041.16,505.63 L1043.16,505.62 L1045.16,505.61 L1047.16,505.61 L1049.16,505.60 L1051.16,505.60 L1053.16,505.59 L1055.16,505.59 L1057.16,505.59 L1059.16,505.59 L1061.16,505.58 L1063.16,505.58 L1065.16,505.58 L1067.16,505.58 L1069.16,505.58 L1071.16,505.58 L1073.16,505.58 L1075.16,505.58 L1077.16,505.58 L1079.16,505.59 L1081.16,505.59 L1083.16,505.59 L1085.16,505.59 L1087.16,505.59 L1089.16,505.59 L1091.16,505.60 L1093.16,505.60 L1095.16,505.60 L1097.16,505.60 L1099.16,505.61 L1101.16,505.61 L1103.16,505.61 L1105.16,505.62 L1107.16,505.62 L1109.16,505.62 L1111.16,505.63 L1113.16,505.63 L1115.16,505.63 L1117.16,505.64 L1119.16,505.64 L1121.16,505.65 L1123.16,505.65 L1125.16,505.65 L1127.16,505.66 L1129.16,505.66 L1131.16,505.67 L1133.16,505.67 L1135.16,505.68 L1137.16,505.68 L1139.16,505.69 L1141.16,505.69 L1143.16,505.70 L1145.16,505.70 L1147.16,505.71 L1149.16,505.71 L1151.16,505.72 L1153.16,505.72 L1155.16,505.73 L1157.16,505.73 L1159.16,505.74 L1161.16,505.74 L1163.16,505.75 L1165.16,505.75 L1167.16,505.76 L1169.16,505.77 L1171.16,505.77 L1173.16,505.78 L1175.16,505.78 L1177.16,505.79 L1179.16,505.80 L1181.16,505.80 L1183.16,505.81 L1185.16,505.82 L1187.16,505.83 L1189.16,505.83 L1191.16,505.84 L1193.16,505.85 L1195.16,505.86 L1197.16,505.87 L1199.16,505.88 L1201.16,505.89 L1203.16,505.90 L1205.16,505.91 L1207.16,505.92 L1209.16,505.93 L1211.16,505.94 L1213.16,505.96 L1215.16,505.97 L1217.16,505.98 L1219.16,505.99 L1221.16,506.01 L1223.16,506.02 L1225.16,506.03 L1227.16,506.05 L1229.16,506.06 L1231.16,506.07 L1233.16,506.08 L1235.16,506.10 L1237.16,506.11 L1239.16,506.12 L1241.16,506.14 L1243.16,506.15 L1245.16,506.16 L1247.16,506.17 L1249.16,506.18 L1251.16,506.20 L1253.16,506.21 L1255.16,506.22 L1257.16,506.23 L1259.16,506.24 L1261.16,506.25 L1263.16,506.26 L1265.16,506.27 L1267.16,506.28 L1269.16,506.29 L1271.16,506.30 L1273.16,506.31 L1275.16,506.32 L1277.16,506.33 L1279.16,506.33 L1281.16,506.34 L1283.16,506.35 L1285.16,506.36 L1287.16,506.36 L1289.16,506.37 L1291.16,506.38 L1293.16,506.38 L1295.16,506.39 L1297.16,506.39 L1299.16,506.40 L1301.16,506.40 L1303.16,506.41 L1305.16,506.41 L1307.16,506.42 L1309.16,506.42 L1311.16,506.42 L1313.16,506.43 L1315.16,506.43 L1317.16,506.44 L1319.16,506.44 L1321.16,506.44 L1323.16,506.44 L1325.16,506.45 L1327.16,506.45 L1329.16,506.45 L1331.16,506.46 L1333.16,506.46 L1335.16,506.46 L1337.16,506.46 L1339.16,506.47 L1341.16,506.47 L1343.16,506.47 L1345.16,506.47 L1347.16,506.47 L1349.16,506.48 L1351.16,506.48 L1353.16,506.48 L1355.16,506.48 L1357.16,506.48 L1359.16,506.49 L1361.16,506.49 L1363.16,506.49 L1365.16,506.49 L1367.16,506.49 L1369.16,506.49 L1371.16,506.49 L1373.16,506.50 L1375.16,506.50 L1377.16,506.50 L1379.16,506.50 L1381.16,506.50 L1383.16,506.50 L1385.16,506.50 L1387.16,506.50 L1389.16,506.51 L1391.16,506.51 L1393.16,506.51 L1395.16,506.51 L1397.16,506.51 L1399.16,506.51 L1401.16,506.51 L1403.16,506.51 L1405.16,506.52 L1407.16,506.52 L1409.16,506.52 L1411.16,506.52 L1413.16,506.52 L1415.16,506.52 L1417.16,506.52 L1419.16,506.52 L1421.16,506.52 L1423.16,506.53 L1425.16,506.53 L1427.16,506.53 L1429.16,506.53 L1431.16,506.53 L1433.16,506.53 L1435.16,506.53 L1437.16,506.53 L1439.16,506.54 L1441.16,506.54 L1443.16,506.54 L1445.16,506.54 L1447.16,506.54 L1449.16,506.54 L1451.16,506.54 L1453.16,506.54 L1455.16,506.55 L1457.16,506.55 L1459.16,506.55 L1461.16,506.55 L1463.16,506.55 L1465.16,506.55 L1467.16,506.56 L1469.16,506.56 L1471.16,506.56 L1473.16,506.56 L1475.16,506.56 L1477.16,506.57 L1479.16,506.57 L1481.16,506.57 L1483.16,506.57 L1485.16,506.58 L1487.16,506.58 L1489.16,506.58 L1491.16,506.59 L1493.16,506.59 L1495.16,506.59 L1497.16,506.59 L1499.16,506.60 L1501.16,506.60 L1503.16,506.61 L1505.16,506.61 L1507.16,506.61 L1509.16,506.62 L1511.16,506.62 L1513.16,506.63 L1515.16,506.63 L1517.16,506.64 L1519.16,506.64 L1521.16,506.65 L1523.16,506.65 L1525.16,506.66 L1527.16,506.66 L1529.16,506.67 L1531.16,506.67 L1533.16,506.68 L1535.16,506.69 L1537.16,506.69 L1539.16,506.70 L1541.16,506.71 L1543.16,506.71 L1545.16,506.72 L1547.16,506.73 L1549.16,506.73 L1551.16,506.74 L1553.16,506.75 L1555.16,506.76 L1557.16,506.76 L1559.16,506.77 L1561.16,506.78 L1563.16,506.79 L1565.16,506.79 L1567.16,506.80 L1569.16,506.81 L1571.16,506.82 L1573.16,506.83 L1575.16,506.83 L1577.16,506.84 L1579.16,506.85 L1581.16,506.86 L1583.16,506.87 L1585.16,506.88 L1587.16,506.88 L1589.16,506.89 L1591.16,506.90 L1593.16,506.91 L1595.16,506.91 L1597.16,506.92 L1599.16,506.93 L1601.16,506.94 L1603.16,506.94 L1605.16,506.95 L1607.16,506.96 L1609.16,506.97 L1611.16,506.97 L1613.16,506.98 L1615.16,506.99 L1617.16,506.99 L1619.16,507.00 L1621.16,507.00 L1623.16,507.01 L1625.16,507.01 L1627.16,507.02 L1629.16,507.03 L1631.16,507.03 L1633.16,507.04 L1635.16,507.04 L1637.16,507.05 L1639.16,507.05 L1641.16,507.06 L1643.16,507.06 L1645.16,507.07 L1647.16,507.07 L1649.16,507.08 L1651.16,507.09 L1653.16,507.09 L1655.16,507.10 L1657.16,507.10 L1659.16,507.11 L1661.16,507.11 L1663.16,507.12 L1665.16,507.12 L1667.16,507.13 L1669.16,507.13 L1671.16,507.14 L1673.16,507.14 L1675.16,507.15 L1677.16,507.15 L1679.16,507.16 L1681.16,507.16 L1683.16,507.17 L1685.16,507.17 L1687.16,507.18 L1689.16,507.18 L1691.16,507.19 L1693.16,507.19 L1695.16,507.19 L1697.16,507.20 L1699.16,507.20 L1701.16,507.21 L1703.16,507.21 L1705.16,507.22 L1707.16,507.22 L1709.16,507.23 L1711.16,507.23 L1713.16,507.24 L1715.16,507.24 L1717.16,507.25 L1719.16,507.25 L1721.16,507.26 L1723.16,507.26 L1725.16,507.27 L1727.16,507.27 L1729.16,507.28 L1731.16,507.28 L1733.16,507.29 L1735.16,507.29 L1737.16,507.30 L1739.00,507.30" fill="none" stroke="#FF00FF" stroke-width="7.0" stroke-linejoin="round" stroke-linecap="round"/><path d="M132.00,805.50 L133.48,804.15 L135.28,803.36 L137.03,804.22 L138.33,805.73 L139.25,807.50 L139.96,809.37 L140.58,811.27 L141.07,813.21 L141.50,815.17 L142.03,817.09 L142.71,818.98 L143.45,820.83 L144.25,822.67 L145.14,824.46 L146.15,826.18 L147.34,827.79 L148.74,829.21 L150.33,830.42 L152.10,831.34 L153.98,832.03 L155.93,832.48 L157.90,832.79 L159.89,832.99 L161.89,833.13 L163.89,833.23 L165.88,833.33 L167.88,833.42 L169.88,833.53 L171.87,833.69 L173.86,833.88 L175.86,834.00 L177.86,834.08 L179.86,834.14 L181.86,834.18 L183.86,834.21 L185.86,834.23 L187.86,834.25 L189.86,834.26 L191.86,834.26 L193.86,834.27 L195.86,834.27 L197.86,834.28 L199.86,834.28 L201.86,834.28 L203.86,834.28 L205.86,834.28 L207.86,834.28 L209.86,834.29 L211.86,834.29 L213.86,834.29 L215.86,834.30 L217.86,834.31 L219.86,834.31 L221.86,834.33 L223.86,834.34 L225.86,834.35 L227.86,834.37 L229.86,834.39 L231.86,834.41 L233.86,834.44 L235.86,834.47 L237.86,834.49 L239.85,834.52 L241.85,834.55 L243.85,834.58 L245.85,834.62 L247.85,834.65 L249.85,834.69 L251.85,834.72 L253.85,834.76 L255.85,834.79 L257.85,834.83 L259.85,834.87 L261.85,834.91 L263.85,834.95 L265.85,835.00 L267.85,835.04 L269.85,835.08 L271.85,835.13 L273.85,835.17 L275.85,835.22 L277.85,835.26 L279.85,835.31 L281.85,835.36 L283.85,835.41 L285.85,835.46 L287.84,835.51 L289.84,835.56 L291.84,835.62 L293.84,835.67 L295.84,835.73 L297.84,835.78 L299.84,835.84 L301.84,835.90 L303.84,835.95 L305.84,836.01 L307.84,836.07 L309.84,836.14 L311.83,836.20 L313.83,836.26 L315.83,836.32 L317.83,836.39 L319.83,836.45 L321.83,836.51 L323.83,836.58 L325.83,836.65 L327.83,836.71 L329.83,836.78 L331.82,836.85 L333.82,836.91 L335.82,836.98 L337.82,837.05 L339.82,837.12 L341.82,837.18 L343.82,837.25 L345.82,837.31 L347.82,837.37 L349.81,837.44 L351.81,837.50 L353.81,837.56 L355.81,837.63 L357.81,837.70 L359.81,837.77 L361.81,837.84 L363.81,837.92 L365.80,838.00 L367.80,838.10 L369.80,838.20 L371.80,838.31 L373.79,838.44 L375.79,838.58 L377.78,838.75 L379.77,838.95 L381.75,839.20 L383.73,839.50 L385.69,839.88 L387.64,840.35 L389.57,840.87 L391.51,841.38 L393.44,841.88 L395.36,842.43 L397.27,843.02 L399.18,843.64 L401.07,844.27 L402.97,844.91 L404.87,845.53 L406.78,846.14 L408.70,846.70 L410.62,847.24 L412.55,847.77 L414.48,848.28 L416.43,848.75 L418.38,849.18 L420.34,849.56 L422.32,849.89 L424.30,850.17 L426.28,850.42 L428.27,850.63 L430.26,850.83 L432.25,851.03 L433.04,851.33 L435.04,851.40 L437.04,851.46 L439.04,851.52 L441.04,851.57 L443.04,851.63 L445.04,851.68 L447.04,851.72 L449.04,851.77 L451.04,851.81 L453.03,851.86 L455.03,851.90 L457.03,851.94 L459.03,851.98 L461.03,852.02 L463.03,852.06 L465.03,852.10 L467.03,852.14 L469.03,852.18 L471.03,852.22 L473.03,852.27 L475.03,852.31 L477.03,852.35 L479.03,852.39 L481.03,852.43 L483.03,852.47 L485.03,852.51 L487.03,852.55 L489.03,852.60 L491.03,852.64 L493.03,852.68 L495.03,852.73 L497.03,852.77 L499.02,852.82 L501.02,852.86 L503.02,852.91 L505.02,852.96 L507.02,853.01 L509.02,853.05 L511.02,853.10 L513.02,853.15 L515.02,853.21 L517.02,853.26 L519.02,853.31 L521.02,853.37 L523.02,853.42 L525.02,853.48 L527.02,853.54 L529.01,853.60 L531.01,853.66 L533.01,853.73 L535.01,853.79 L537.01,853.86 L539.01,853.92 L541.01,853.99 L543.01,854.06 L545.01,854.13 L547.00,854.20 L549.00,854.27 L551.00,854.34 L553.00,854.42 L555.00,854.49 L557.00,854.56 L559.00,854.64 L561.00,854.71 L562.99,854.79 L564.99,854.86 L566.99,854.94 L568.99,855.02 L570.99,855.09 L572.99,855.17 L574.98,855.25 L576.98,855.32 L578.98,855.40 L580.98,855.48 L582.98,855.56 L584.98,855.64 L586.98,855.72 L588.97,855.79 L590.97,855.87 L592.97,855.95 L594.97,856.03 L596.97,856.11 L598.97,856.19 L600.96,856.27 L602.96,856.35 L604.96,856.42 L606.96,856.50 L608.96,856.58 L610.96,856.66 L612.96,856.74 L614.95,856.81 L616.95,856.89 L618.95,856.97 L620.95,857.04 L622.95,857.12 L624.95,857.19 L626.95,857.26 L628.94,857.33 L630.94,857.40 L632.94,857.47 L634.94,857.54 L636.94,857.61 L638.94,857.68 L640.94,857.75 L642.94,857.81 L644.94,857.88 L646.93,857.94 L648.93,858.01 L650.93,858.07 L652.93,858.13 L654.93,858.20 L656.93,858.26 L658.93,858.32 L660.93,858.38 L662.93,858.44 L664.93,858.50 L666.92,858.57 L668.92,858.63 L670.92,858.69 L672.92,858.76 L674.92,858.82 L676.92,858.89 L678.92,858.96 L680.92,859.03 L682.92,859.10 L684.91,859.17 L686.91,859.24 L688.91,859.31 L690.91,859.38 L692.91,859.45 L694.91,859.52 L696.91,859.59 L698.91,859.66 L700.90,859.73 L702.90,859.80 L704.90,859.87 L706.90,859.94 L708.90,860.01 L710.90,860.09 L712.90,860.16 L714.90,860.24 L716.89,860.32 L718.89,860.40 L720.89,860.48 L722.89,860.56 L724.89,860.64 L726.89,860.73 L728.88,860.82 L730.88,860.91 L732.88,861.00 L734.88,861.10 L736.87,861.19 L738.87,861.29 L740.87,861.38 L742.87,861.48 L744.87,861.58 L746.86,861.68 L748.86,861.77 L750.86,861.87 L752.86,861.98 L754.85,862.08 L756.85,862.18 L758.85,862.29 L760.84,862.40 L762.84,862.51 L764.84,862.62 L766.83,862.74 L768.83,862.85 L770.83,862.97 L772.82,863.10 L774.82,863.23 L776.82,863.36 L778.81,863.49 L780.81,863.63 L782.80,863.78 L784.79,863.93 L786.79,864.09 L788.78,864.25 L790.77,864.42 L792.77,864.59 L794.76,864.77 L796.75,864.95 L798.74,865.14 L800.73,865.34 L802.72,865.54 L804.71,865.75 L806.70,865.96 L808.69,866.18 L810.67,866.41 L812.66,866.64 L814.65,866.88 L816.63,867.13 L818.61,867.38 L820.60,867.65 L822.58,867.92 L824.56,868.19 L826.54,868.48 L828.52,868.78 L830.49,869.10 L832.46,869.43 L834.43,869.77 L836.40,870.13 L838.36,870.51 L840.33,870.91 L842.28,871.32 L844.24,871.75 L846.19,872.19 L848.14,872.64 L850.08,873.11 L852.02,873.58 L853.96,874.07 L855.90,874.58 L857.83,875.11 L859.75,875.66 L861.66,876.23 L863.57,876.83 L865.48,877.45 L867.37,878.09 L869.25,878.76 L871.13,879.46 L872.99,880.18 L874.84,880.94 L876.68,881.73 L878.49,882.58 L880.27,883.50 L882.01,884.48 L883.72,885.51 L885.40,886.60 L887.05,887.72 L888.68,888.90 L890.27,890.11 L891.83,891.35 L893.37,892.63 L894.88,893.94 L896.37,895.28 L897.83,896.64 L899.28,898.02 L900.72,899.41 L902.14,900.81 L903.55,902.23 L904.94,903.67 L906.29,905.14 L907.62,906.65 L908.89,908.18 L910.11,909.77 L911.27,911.40 L912.33,913.09 L913.32,914.83 L914.22,916.62 L915.07,918.43 L915.86,920.27 L916.62,922.12 L917.35,923.98 L918.07,925.84 L918.80,927.71 L919.53,929.57 L920.25,931.44 L920.93,933.31 L921.60,935.20 L922.23,937.10 L922.82,939.01 L923.39,940.93 L923.92,942.85 L924.43,944.79 L924.90,946.73 L925.35,948.68 L925.78,950.63 L926.19,952.59 L926.59,954.55 L926.97,956.51 L927.34,958.48 L927.71,960.45 L928.07,962.41 L928.42,964.38 L928.77,966.35 L929.12,968.32 L929.45,970.29 L929.78,972.27 L930.10,974.24 L930.42,976.21 L930.73,978.19 L931.03,980.17 L931.34,982.14 L931.64,984.12 L931.94,986.10 L932.24,988.07 L932.54,990.05 L932.85,992.03 L933.15,994.01 L933.46,995.98 L933.77,997.96 L934.09,999.93 L934.40,1001.91 L934.71,1003.88 L935.02,1005.86 L935.32,1007.84 L935.63,1009.81 L935.92,1011.79 L936.22,1013.77 L936.50,1015.75 L936.77,1017.73 L937.02,1019.72 L937.26,1021.70 L937.49,1023.69 L937.70,1025.68 L937.92,1027.66 L938.13,1029.65 L938.34,1031.64 L938.57,1033.63 L938.78,1035.62 L938.96,1037.61 L939.17,1039.60 L939.90,1040.86 L940.52,1038.97 L940.99,1037.02 L941.42,1035.07 L941.80,1033.11 L942.15,1031.14 L942.47,1029.16 L942.77,1027.18 L943.07,1025.21 L943.37,1023.23 L943.66,1021.25 L943.93,1019.27 L944.19,1017.29 L944.43,1015.30 L944.65,1013.31 L944.86,1011.32 L945.05,1009.33 L945.23,1007.34 L945.40,1005.35 L945.56,1003.35 L945.72,1001.36 L945.87,999.37 L946.02,997.37 L946.18,995.38 L946.32,993.38 L946.47,991.39 L946.62,989.40 L946.77,987.40 L946.93,985.41 L947.08,983.41 L947.24,981.42 L947.40,979.42 L947.55,977.43 L947.70,975.44 L947.86,973.44 L948.01,971.45 L948.16,969.45 L948.32,967.46 L948.47,965.47 L948.63,963.47 L948.79,961.48 L948.95,959.49 L949.12,957.49 L949.29,955.50 L949.47,953.51 L949.64,951.52 L949.82,949.52 L950.00,947.53 L950.19,945.54 L950.38,943.55 L950.58,941.56 L950.78,939.57 L950.99,937.58 L951.22,935.59 L951.45,933.61 L951.69,931.62 L951.93,929.64 L952.18,927.65 L952.44,925.67 L952.70,923.69 L952.99,921.71 L953.30,919.73 L953.63,917.76 L954.01,915.79 L954.42,913.84 L954.88,911.89 L955.38,909.96 L955.93,908.03 L956.51,906.12 L957.14,904.22 L957.82,902.34 L958.56,900.48 L959.35,898.64 L960.20,896.84 L961.16,895.08 L962.25,893.40 L963.53,891.87 L964.97,890.48 L966.48,889.17 L968.16,888.09 L970.01,887.33 L971.94,886.83 L973.91,886.49 L975.90,886.27 L977.89,886.11 L979.89,886.00 L981.89,885.93 L983.89,885.89 L985.89,885.88 L987.89,885.89 L989.89,885.92 L991.89,885.97 L993.89,886.03 L995.88,886.12 L997.88,886.24 L999.87,886.40 L1001.87,886.58 L1003.86,886.78 L1005.84,887.00 L1007.83,887.23 L1009.82,887.47 L1011.80,887.73 L1013.78,887.99 L1015.77,888.25 L1017.75,888.51 L1019.73,888.77 L1021.72,889.02 L1023.70,889.28 L1025.68,889.54 L1027.66,889.81 L1029.64,890.09 L1031.62,890.38 L1033.60,890.67 L1035.58,890.97 L1037.55,891.28 L1039.53,891.59 L1041.51,891.90 L1043.48,892.22 L1045.46,892.53 L1047.43,892.83 L1049.41,893.13 L1051.39,893.42 L1053.37,893.71 L1055.35,894.00 L1057.33,894.28 L1059.31,894.58 L1061.28,894.87 L1063.26,895.17 L1065.24,895.47 L1067.21,895.78 L1069.19,896.10 L1071.16,896.42 L1073.14,896.75 L1075.11,897.10 L1077.07,897.45 L1079.04,897.82 L1081.00,898.20 L1082.96,898.59 L1084.92,899.01 L1086.87,899.44 L1088.82,899.89 L1090.76,900.37 L1092.70,900.87 L1094.63,901.39 L1096.56,901.92 L1098.48,902.47 L1100.40,903.03 L1102.32,903.60 L1104.23,904.18 L1106.15,904.77 L1108.05,905.36 L1109.96,905.97 L1111.87,906.57 L1113.77,907.18 L1115.68,907.79 L1117.58,908.41 L1119.48,909.02 L1121.39,909.63 L1123.30,910.23 L1125.20,910.83 L1127.12,911.42 L1129.03,912.00 L1130.95,912.57 L1132.87,913.12 L1134.80,913.66 L1136.72,914.19 L1138.65,914.71 L1140.59,915.22 L1142.52,915.73 L1144.46,916.24 L1146.39,916.73 L1148.33,917.23 L1150.27,917.72 L1152.21,918.22 L1154.15,918.71 L1156.08,919.21 L1158.02,919.72 L1159.95,920.23 L1161.88,920.76 L1163.80,921.31 L1165.71,921.90 L1167.60,922.56 L1169.43,923.37 L1171.15,924.38 L1172.86,925.41 L1174.73,926.14 L1176.66,926.62 L1178.63,926.98 L1180.61,927.27 L1182.60,927.50 L1184.59,927.72 L1186.58,927.92 L1188.57,928.12 L1190.55,928.33 L1192.54,928.55 L1194.52,928.81 L1196.50,929.11 L1198.47,929.47 L1200.42,929.89 L1202.37,930.37 L1204.30,930.90 L1206.22,931.46 L1208.13,932.03 L1210.05,932.58 L1211.98,933.12 L1213.92,933.62 L1215.86,934.09 L1217.81,934.52 L1219.77,934.93 L1221.73,935.32 L1223.70,935.69 L1225.67,936.04 L1227.64,936.39 L1229.61,936.72 L1231.58,937.06 L1233.55,937.39 L1235.53,937.72 L1237.50,938.04 L1239.47,938.36 L1241.45,938.69 L1243.42,939.01 L1245.40,939.33 L1247.37,939.65 L1249.34,939.98 L1251.32,940.31 L1253.29,940.64 L1255.26,940.97 L1257.23,941.31 L1259.20,941.66 L1261.17,942.02 L1263.13,942.39 L1265.09,942.78 L1267.05,943.22 L1268.99,943.70 L1270.91,944.25 L1272.82,944.86 L1274.71,945.51 L1276.60,946.15 L1278.52,946.72 L1280.46,947.21 L1282.42,947.61 L1284.39,947.94 L1286.37,948.22 L1288.35,948.47 L1290.34,948.69 L1292.33,948.89 L1294.32,949.08 L1296.32,949.25 L1298.31,949.42 L1300.30,949.57 L1302.30,949.72 L1304.29,949.86 L1306.29,949.99 L1308.28,950.12 L1310.28,950.24 L1312.28,950.36 L1314.27,950.47 L1316.27,950.59 L1318.27,950.69 L1320.26,950.80 L1322.26,950.90 L1324.26,951.01 L1326.26,951.11 L1328.25,951.20 L1330.25,951.30 L1332.25,951.40 L1334.25,951.49 L1336.24,951.59 L1338.24,951.68 L1340.24,951.77 L1342.24,951.85 L1344.24,951.93 L1346.24,952.01 L1348.23,952.08 L1350.23,952.15 L1352.23,952.21 L1354.23,952.26 L1356.23,952.31 L1358.23,952.36 L1360.23,952.40 L1362.23,952.43 L1364.23,952.46 L1366.23,952.48 L1368.23,952.49 L1370.23,952.50 L1372.23,952.50 L1374.23,952.50 L1376.23,952.49 L1378.23,952.47 L1380.23,952.44 L1382.23,952.41 L1384.23,952.38 L1386.23,952.33 L1388.23,952.29 L1390.23,952.23 L1392.23,952.18 L1394.23,952.12 L1396.22,952.06 L1398.22,952.00 L1400.22,951.93 L1402.22,951.87 L1404.22,951.80 L1406.22,951.73 L1408.22,951.66 L1410.22,951.59 L1412.22,951.52 L1414.21,951.45 L1416.21,951.38 L1418.21,951.31 L1420.21,951.24 L1422.21,951.18 L1424.21,951.11 L1426.21,951.05 L1428.21,950.99 L1430.21,950.94 L1432.21,950.90 L1434.21,950.86 L1436.20,950.84 L1438.20,950.81 L1440.20,950.79 L1442.20,950.78 L1444.20,950.76 L1446.20,950.75 L1448.20,950.73 L1450.20,950.71 L1452.20,950.69 L1454.20,950.66 L1456.20,950.63 L1458.20,950.59 L1460.20,950.54 L1462.20,950.48 L1464.20,950.41 L1466.20,950.32 L1468.20,950.22 L1470.19,950.09 L1472.19,949.95 L1474.18,949.78 L1476.17,949.58 L1478.16,949.37 L1480.15,949.16 L1482.13,948.93 L1484.12,948.70 L1486.11,948.45 L1488.09,948.18 L1490.07,947.89 L1492.04,947.57 L1494.01,947.22 L1495.97,946.84 L1497.93,946.43 L1499.88,945.99 L1501.82,945.52 L1503.76,945.02 L1505.69,944.50 L1507.62,943.95 L1509.54,943.39 L1511.45,942.80 L1513.36,942.21 L1515.26,941.59 L1517.16,940.96 L1519.05,940.31 L1520.94,939.65 L1522.82,938.98 L1524.70,938.30 L1526.58,937.61 L1528.45,936.91 L1530.32,936.20 L1532.19,935.49 L1534.06,934.76 L1535.92,934.04 L1537.78,933.30 L1539.64,932.56 L1541.49,931.82 L1543.35,931.07 L1545.20,930.31 L1547.05,929.55 L1548.90,928.79 L1550.74,928.02 L1552.59,927.24 L1554.43,926.46 L1556.27,925.68 L1558.11,924.89 L1559.94,924.10 L1561.78,923.30 L1563.61,922.49 L1565.43,921.68 L1567.26,920.86 L1569.08,920.03 L1570.90,919.20 L1572.71,918.35 L1574.51,917.49 L1576.30,916.60 L1578.09,915.69 L1579.86,914.77 L1581.63,913.83 L1583.38,912.87 L1585.13,911.90 L1586.87,910.92 L1588.61,909.92 L1590.33,908.91 L1592.06,907.90 L1593.78,906.88 L1595.50,905.86 L1597.22,904.84 L1598.94,903.82 L1600.67,902.81 L1602.40,901.81 L1604.14,900.82 L1605.88,899.85 L1607.65,898.90 L1609.42,897.98 L1611.20,897.07 L1612.99,896.18 L1614.79,895.29 L1616.58,894.42 L1618.39,893.55 L1620.20,892.70 L1622.01,891.86 L1623.83,891.03 L1625.65,890.20 L1627.47,889.38 L1629.30,888.56 L1631.13,887.75 L1632.96,886.94 L1634.78,886.13 L1636.61,885.31 L1638.43,884.49 L1640.25,883.65 L1642.06,882.79 L1643.86,881.93 L1645.66,881.06 L1647.46,880.20 L1649.27,879.34 L1651.08,878.49 L1652.90,877.66 L1654.73,876.85 L1656.57,876.07 L1658.43,875.32 L1660.29,874.60 L1662.17,873.91 L1664.06,873.26 L1665.96,872.65 L1667.88,872.07 L1669.80,871.52 L1671.73,871.00 L1673.67,870.50 L1675.61,870.02 L1677.56,869.56 L1679.51,869.11 L1681.46,868.68 L1683.41,868.26 L1685.37,867.84 L1687.33,867.44 L1689.29,867.04 L1691.25,866.65 L1693.21,866.26 L1695.18,865.88 L1697.14,865.50 L1699.10,865.12 L1701.07,864.73 L1703.03,864.35 L1704.99,863.97 L1706.96,863.60 L1708.92,863.23 L1710.89,862.88 L1712.86,862.54 L1714.83,862.20 L1716.81,861.86 L1718.78,861.53 L1720.75,861.21 L1722.73,860.89 L1724.70,860.57 L1726.68,860.26 L1728.65,859.94 L1730.63,859.63 L1732.60,859.32 L1734.58,859.01 L1736.55,858.70 L1738.53,858.38 L1739.00,858.30" fill="none" stroke="#008000" stroke-width="7.0" stroke-linejoin="round" stroke-linecap="round"/><path d="M132.00,1062.00 L132.72,1060.13 L133.51,1058.30 L134.77,1056.78 L136.63,1056.58 L137.96,1058.06 L138.91,1059.81 L139.59,1061.69 L140.11,1063.62 L140.67,1065.54 L141.46,1067.38 L142.44,1069.12 L143.52,1070.80 L144.69,1072.43 L145.98,1073.96 L147.28,1075.47 L148.50,1077.06 L149.73,1078.64 L151.10,1080.09 L152.63,1081.38 L154.28,1082.51 L155.97,1083.58 L157.74,1084.51 L159.61,1085.19 L161.57,1085.59 L163.57,1085.72 L165.56,1085.83 L167.56,1085.84 L169.56,1085.82 L171.56,1085.85 L173.56,1085.90 L175.56,1085.96 L177.56,1086.03 L179.56,1086.10 L181.56,1086.18 L183.55,1086.26 L185.55,1086.35 L187.55,1086.44 L189.55,1086.53 L191.55,1086.62 L193.54,1086.71 L195.54,1086.80 L197.54,1086.89 L199.54,1086.99 L201.54,1087.08 L203.53,1087.18 L205.53,1087.27 L207.53,1087.37 L209.53,1087.46 L211.52,1087.56 L213.52,1087.65 L215.52,1087.75 L217.52,1087.84 L219.52,1087.94 L221.51,1088.03 L223.51,1088.13 L225.51,1088.22 L227.51,1088.32 L229.50,1088.41 L231.50,1088.51 L233.50,1088.60 L235.50,1088.70 L237.50,1088.79 L239.49,1088.89 L241.49,1088.98 L243.49,1089.07 L245.49,1089.17 L247.48,1089.26 L249.48,1089.35 L251.48,1089.44 L253.48,1089.53 L255.48,1089.62 L257.47,1089.71 L259.47,1089.80 L261.47,1089.89 L263.47,1089.98 L265.47,1090.06 L267.46,1090.15 L269.46,1090.23 L271.46,1090.32 L273.46,1090.40 L275.46,1090.48 L277.46,1090.56 L279.45,1090.64 L281.45,1090.72 L283.45,1090.80 L285.45,1090.87 L287.45,1090.95 L289.45,1091.02 L291.45,1091.09 L293.45,1091.15 L295.44,1091.22 L297.44,1091.29 L299.44,1091.35 L301.44,1091.41 L303.44,1091.48 L305.44,1091.54 L307.44,1091.60 L309.44,1091.66 L311.44,1091.72 L313.44,1091.77 L315.43,1091.83 L317.43,1091.89 L319.43,1091.94 L321.43,1092.00 L323.43,1092.05 L325.43,1092.11 L327.43,1092.16 L329.43,1092.22 L331.43,1092.27 L333.43,1092.32 L335.43,1092.38 L337.43,1092.43 L339.43,1092.48 L341.43,1092.53 L343.42,1092.58 L345.42,1092.64 L347.42,1092.69 L349.42,1092.74 L351.42,1092.79 L353.42,1092.84 L355.42,1092.90 L357.42,1092.95 L359.42,1093.01 L361.42,1093.06 L363.42,1093.12 L365.42,1093.17 L367.42,1093.23 L369.42,1093.29 L371.41,1093.36 L373.41,1093.42 L375.41,1093.50 L377.41,1093.57 L379.41,1093.65 L381.41,1093.74 L383.40,1093.88 L385.20,1094.32 L387.18,1094.54 L389.17,1094.77 L391.16,1095.01 L393.14,1095.27 L395.12,1095.53 L397.10,1095.80 L399.08,1096.07 L401.07,1096.35 L403.05,1096.63 L405.02,1096.92 L407.00,1097.21 L408.98,1097.51 L410.96,1097.81 L412.93,1098.12 L414.91,1098.43 L416.89,1098.74 L418.86,1099.07 L420.83,1099.41 L422.80,1099.76 L424.77,1100.11 L426.74,1100.45 L428.71,1100.79 L430.68,1101.11 L432.65,1101.46 L434.62,1101.82 L436.59,1102.17 L438.57,1102.46 L440.56,1102.68 L442.55,1102.84 L444.54,1102.98 L446.54,1103.07 L448.54,1103.10 L450.54,1103.12 L452.54,1103.14 L454.54,1103.15 L456.54,1103.17 L458.54,1103.19 L460.54,1103.20 L462.54,1103.22 L464.54,1103.23 L466.54,1103.24 L468.54,1103.24 L470.54,1103.25 L472.54,1103.25 L474.54,1103.25 L476.54,1103.25 L478.54,1103.26 L480.54,1103.26 L482.54,1103.26 L484.54,1103.26 L486.54,1103.26 L488.54,1103.27 L490.54,1103.27 L492.54,1103.28 L494.54,1103.28 L496.54,1103.29 L498.54,1103.30 L500.54,1103.30 L502.54,1103.31 L504.54,1103.33 L506.54,1103.34 L508.54,1103.35 L510.54,1103.37 L512.54,1103.39 L514.54,1103.41 L516.54,1103.43 L518.54,1103.45 L520.54,1103.47 L522.54,1103.50 L524.54,1103.53 L526.54,1103.56 L528.54,1103.59 L530.54,1103.63 L532.54,1103.66 L534.54,1103.70 L536.54,1103.74 L538.54,1103.78 L540.54,1103.82 L542.54,1103.86 L544.54,1103.90 L546.54,1103.94 L548.54,1103.99 L550.54,1104.03 L552.54,1104.08 L554.53,1104.12 L556.53,1104.17 L558.53,1104.22 L560.53,1104.26 L562.53,1104.31 L564.53,1104.36 L566.53,1104.41 L568.53,1104.46 L570.53,1104.51 L572.53,1104.56 L574.53,1104.61 L576.53,1104.66 L578.53,1104.71 L580.53,1104.76 L582.53,1104.82 L584.53,1104.87 L586.52,1104.92 L588.52,1104.98 L590.52,1105.03 L592.52,1105.09 L594.52,1105.14 L596.52,1105.20 L598.52,1105.25 L600.52,1105.31 L602.52,1105.36 L604.52,1105.42 L606.52,1105.47 L608.52,1105.53 L610.52,1105.59 L612.51,1105.65 L614.51,1105.70 L616.51,1105.76 L618.51,1105.82 L620.51,1105.88 L622.51,1105.94 L624.51,1106.00 L626.51,1106.06 L628.51,1106.12 L630.51,1106.17 L632.51,1106.23 L634.50,1106.29 L636.50,1106.35 L638.50,1106.41 L640.50,1106.47 L642.50,1106.53 L644.50,1106.59 L646.50,1106.65 L648.50,1106.70 L650.50,1106.76 L652.50,1106.82 L654.50,1106.88 L656.50,1106.94 L658.49,1107.00 L660.49,1107.06 L662.49,1107.12 L664.49,1107.18 L666.49,1107.25 L668.49,1107.31 L670.49,1107.37 L672.49,1107.43 L674.49,1107.49 L676.49,1107.56 L678.48,1107.62 L680.48,1107.69 L682.48,1107.75 L684.48,1107.82 L686.48,1107.89 L688.48,1107.95 L690.48,1108.02 L692.48,1108.09 L694.48,1108.16 L696.47,1108.23 L698.47,1108.31 L700.47,1108.38 L702.47,1108.45 L704.47,1108.53 L706.47,1108.61 L708.47,1108.68 L710.46,1108.76 L712.46,1108.84 L714.46,1108.93 L716.46,1109.01 L718.46,1109.10 L720.46,1109.19 L722.45,1109.28 L724.45,1109.37 L726.45,1109.46 L728.45,1109.56 L730.44,1109.66 L732.44,1109.76 L734.44,1109.87 L736.44,1109.97 L738.43,1110.08 L740.43,1110.19 L742.43,1110.31 L744.42,1110.42 L746.42,1110.54 L748.42,1110.66 L750.41,1110.78 L752.41,1110.91 L754.40,1111.03 L756.40,1111.16 L758.40,1111.29 L760.39,1111.42 L762.39,1111.55 L764.38,1111.69 L766.38,1111.82 L768.37,1111.96 L770.37,1112.10 L772.36,1112.24 L774.36,1112.39 L776.35,1112.53 L778.35,1112.68 L780.34,1112.83 L782.34,1112.97 L784.33,1113.13 L786.33,1113.28 L788.32,1113.43 L790.31,1113.59 L792.31,1113.75 L794.30,1113.91 L796.29,1114.07 L798.29,1114.23 L800.28,1114.40 L802.27,1114.57 L804.27,1114.74 L806.26,1114.93 L808.25,1115.12 L810.24,1115.34 L812.22,1115.59 L814.20,1115.88 L816.17,1116.24 L818.12,1116.68 L820.07,1117.12 L822.03,1117.51 L824.00,1117.87 L825.96,1118.24 L827.92,1118.63 L829.88,1119.03 L831.84,1119.45 L833.79,1119.89 L835.73,1120.36 L837.67,1120.86 L839.60,1121.39 L841.52,1121.95 L843.43,1122.54 L845.33,1123.16 L847.22,1123.81 L849.10,1124.49 L850.97,1125.20 L852.84,1125.93 L854.69,1126.68 L856.54,1127.44 L858.38,1128.22 L860.22,1129.01 L862.05,1129.82 L863.86,1130.65 L865.67,1131.51 L867.47,1132.39 L869.25,1133.30 L871.02,1134.24 L872.77,1135.21 L874.50,1136.20 L876.23,1137.21 L877.94,1138.24 L879.64,1139.30 L881.33,1140.37 L883.00,1141.47 L884.65,1142.60 L886.28,1143.75 L887.89,1144.95 L889.46,1146.18 L891.00,1147.45 L892.52,1148.76 L893.99,1150.11 L895.43,1151.50 L896.84,1152.92 L898.20,1154.38 L899.53,1155.88 L900.83,1157.40 L902.10,1158.94 L903.33,1160.52 L904.52,1162.13 L905.68,1163.76 L906.80,1165.41 L907.89,1167.09 L908.94,1168.79 L909.96,1170.51 L910.95,1172.25 L911.88,1174.02 L912.78,1175.81 L913.65,1177.61 L914.49,1179.43 L915.30,1181.25 L916.08,1183.09 L916.85,1184.94 L917.60,1186.79 L918.33,1188.66 L919.04,1190.53 L919.72,1192.41 L920.38,1194.30 L921.00,1196.20 L921.60,1198.10 L922.18,1200.02 L922.75,1201.94 L923.30,1203.86 L923.83,1205.79 L924.34,1207.72 L924.84,1209.66 L925.32,1211.60 L925.79,1213.54 L926.26,1215.49 L926.73,1217.43 L927.20,1219.37 L927.67,1221.32 L928.14,1223.26 L928.63,1225.20 L929.11,1227.14 L929.60,1229.08 L930.09,1231.02 L930.58,1232.96 L931.07,1234.90 L931.56,1236.84 L932.05,1238.78 L932.55,1240.71 L933.04,1242.65 L933.53,1244.59 L934.03,1246.53 L934.53,1248.46 L935.03,1250.40 L935.54,1252.33 L936.06,1254.27 L936.57,1256.20 L937.08,1258.13 L937.57,1260.07 L938.03,1262.02 L938.48,1263.97 L938.94,1265.91 L939.45,1267.85 L940.08,1269.74 L941.32,1270.81 L942.18,1269.03 L942.73,1267.10 L943.11,1265.14 L943.44,1263.17 L943.77,1261.19 L944.11,1259.22 L944.45,1257.25 L944.80,1255.28 L945.14,1253.31 L945.48,1251.34 L945.80,1249.37 L946.12,1247.39 L946.43,1245.42 L946.72,1243.44 L946.99,1241.46 L947.24,1239.47 L947.47,1237.49 L947.69,1235.50 L947.89,1233.51 L948.08,1231.52 L948.27,1229.53 L948.45,1227.53 L948.64,1225.54 L948.82,1223.55 L949.02,1221.56 L949.21,1219.57 L949.42,1217.58 L949.62,1215.59 L949.82,1213.60 L950.03,1211.61 L950.23,1209.62 L950.44,1207.63 L950.64,1205.64 L950.84,1203.65 L951.04,1201.66 L951.24,1199.67 L951.44,1197.68 L951.63,1195.69 L951.81,1193.70 L951.99,1191.71 L952.17,1189.72 L952.34,1187.72 L952.52,1185.73 L952.71,1183.74 L952.91,1181.75 L953.12,1179.76 L953.34,1177.78 L953.59,1175.79 L953.84,1173.81 L954.11,1171.82 L954.38,1169.84 L954.65,1167.86 L954.94,1165.88 L955.24,1163.91 L955.56,1161.93 L955.89,1159.96 L956.23,1157.99 L956.60,1156.02 L956.99,1154.06 L957.40,1152.10 L957.83,1150.15 L958.29,1148.20 L958.77,1146.26 L959.28,1144.33 L959.83,1142.41 L960.44,1140.50 L961.10,1138.61 L961.84,1136.75 L962.67,1134.93 L963.60,1133.17 L964.65,1131.46 L965.79,1129.82 L967.02,1128.24 L968.30,1126.71 L969.74,1125.33 L971.41,1124.22 L973.24,1123.41 L975.14,1122.82 L977.09,1122.37 L979.06,1122.02 L981.05,1121.76 L983.04,1121.57 L985.03,1121.44 L987.03,1121.37 L989.03,1121.37 L991.03,1121.42 L993.03,1121.53 L995.02,1121.67 L997.01,1121.84 L999.00,1122.04 L1000.99,1122.26 L1002.98,1122.50 L1004.96,1122.76 L1006.94,1123.06 L1008.91,1123.37 L1010.88,1123.72 L1012.85,1124.08 L1014.81,1124.46 L1016.78,1124.84 L1018.74,1125.24 L1020.70,1125.64 L1022.65,1126.05 L1024.61,1126.46 L1026.57,1126.88 L1028.52,1127.31 L1030.47,1127.75 L1032.42,1128.20 L1034.37,1128.65 L1036.31,1129.11 L1038.26,1129.58 L1040.20,1130.06 L1042.14,1130.54 L1044.08,1131.02 L1046.02,1131.51 L1047.96,1131.99 L1049.91,1132.47 L1051.85,1132.96 L1053.79,1133.44 L1055.73,1133.93 L1057.67,1134.42 L1059.60,1134.91 L1061.54,1135.40 L1063.48,1135.89 L1065.42,1136.39 L1067.35,1136.89 L1069.29,1137.39 L1071.23,1137.90 L1073.16,1138.41 L1075.09,1138.92 L1077.02,1139.44 L1078.95,1139.96 L1080.88,1140.49 L1082.81,1141.03 L1084.74,1141.57 L1086.66,1142.11 L1088.58,1142.67 L1090.50,1143.23 L1092.42,1143.80 L1094.33,1144.38 L1096.24,1144.97 L1098.15,1145.56 L1100.06,1146.16 L1101.97,1146.76 L1103.88,1147.37 L1105.78,1147.98 L1107.68,1148.59 L1109.59,1149.21 L1111.49,1149.83 L1113.39,1150.45 L1115.29,1151.07 L1117.19,1151.69 L1119.09,1152.32 L1120.99,1152.94 L1122.89,1153.56 L1124.79,1154.18 L1126.70,1154.80 L1128.60,1155.41 L1130.50,1156.02 L1132.41,1156.63 L1134.31,1157.24 L1136.22,1157.85 L1138.12,1158.46 L1140.03,1159.08 L1141.93,1159.70 L1143.83,1160.32 L1145.73,1160.94 L1147.63,1161.56 L1149.53,1162.17 L1151.44,1162.79 L1153.34,1163.41 L1155.24,1164.03 L1157.14,1164.64 L1159.05,1165.25 L1160.95,1165.86 L1162.86,1166.47 L1164.77,1167.07 L1166.68,1167.67 L1168.59,1168.26 L1170.50,1168.85 L1172.41,1169.43 L1174.33,1170.00 L1176.24,1170.57 L1178.16,1171.14 L1180.08,1171.70 L1182.00,1172.27 L1183.92,1172.83 L1185.84,1173.39 L1187.76,1173.94 L1189.68,1174.49 L1191.61,1175.04 L1193.53,1175.59 L1195.46,1176.13 L1197.38,1176.67 L1199.31,1177.20 L1201.24,1177.73 L1203.17,1178.25 L1205.10,1178.77 L1207.04,1179.28 L1208.97,1179.78 L1210.91,1180.28 L1212.85,1180.77 L1214.79,1181.25 L1216.73,1181.73 L1218.68,1182.19 L1220.62,1182.64 L1222.58,1183.08 L1224.53,1183.50 L1226.49,1183.91 L1228.45,1184.31 L1230.41,1184.69 L1232.38,1185.07 L1234.34,1185.44 L1236.31,1185.80 L1238.28,1186.16 L1240.25,1186.51 L1242.22,1186.86 L1244.19,1187.20 L1246.16,1187.55 L1248.13,1187.89 L1250.10,1188.24 L1252.07,1188.58 L1254.03,1188.94 L1256.00,1189.30 L1257.97,1189.67 L1259.93,1190.06 L1261.88,1190.47 L1263.83,1190.94 L1265.75,1191.49 L1267.62,1192.20 L1269.39,1193.14 L1271.20,1193.96 L1273.14,1194.46 L1275.11,1194.79 L1277.10,1195.04 L1279.08,1195.26 L1281.08,1195.44 L1283.07,1195.60 L1285.06,1195.75 L1287.06,1195.88 L1289.06,1196.00 L1291.05,1196.12 L1293.05,1196.22 L1295.05,1196.33 L1297.04,1196.43 L1299.04,1196.53 L1301.04,1196.63 L1303.04,1196.73 L1305.03,1196.83 L1307.03,1196.94 L1309.03,1197.05 L1311.03,1197.16 L1313.02,1197.27 L1315.02,1197.38 L1317.02,1197.50 L1319.01,1197.61 L1321.01,1197.73 L1323.01,1197.84 L1325.00,1197.95 L1327.00,1198.05 L1329.00,1198.16 L1331.00,1198.26 L1332.99,1198.35 L1334.99,1198.44 L1336.99,1198.53 L1338.99,1198.61 L1340.99,1198.69 L1342.98,1198.76 L1344.98,1198.82 L1346.98,1198.88 L1348.98,1198.93 L1350.98,1198.98 L1352.98,1199.01 L1354.98,1199.05 L1356.98,1199.07 L1358.98,1199.10 L1360.98,1199.11 L1362.98,1199.13 L1364.98,1199.14 L1366.98,1199.15 L1368.98,1199.15 L1370.98,1199.15 L1372.98,1199.15 L1374.98,1199.14 L1376.98,1199.14 L1378.98,1199.13 L1380.98,1199.11 L1382.98,1199.10 L1384.98,1199.08 L1386.98,1199.06 L1388.98,1199.04 L1390.98,1199.02 L1392.98,1199.00 L1394.98,1198.97 L1396.98,1198.95 L1398.98,1198.92 L1400.98,1198.89 L1402.98,1198.86 L1404.98,1198.83 L1406.98,1198.80 L1408.98,1198.77 L1410.98,1198.74 L1412.98,1198.72 L1414.98,1198.70 L1416.98,1198.68 L1418.98,1198.67 L1420.98,1198.65 L1422.98,1198.63 L1424.98,1198.62 L1426.98,1198.60 L1428.98,1198.59 L1430.98,1198.57 L1432.98,1198.55 L1434.98,1198.53 L1436.98,1198.51 L1438.98,1198.48 L1440.98,1198.45 L1442.98,1198.42 L1444.98,1198.39 L1446.98,1198.35 L1448.98,1198.31 L1450.97,1198.26 L1452.97,1198.21 L1454.97,1198.15 L1456.97,1198.09 L1458.97,1198.01 L1460.97,1197.93 L1462.97,1197.84 L1464.96,1197.74 L1466.96,1197.62 L1468.96,1197.49 L1470.95,1197.34 L1472.94,1197.17 L1474.93,1196.98 L1476.92,1196.76 L1478.91,1196.53 L1480.89,1196.28 L1482.87,1196.00 L1484.85,1195.69 L1486.82,1195.34 L1488.78,1194.95 L1490.73,1194.52 L1492.67,1194.03 L1494.60,1193.50 L1496.51,1192.92 L1498.41,1192.29 L1500.30,1191.63 L1502.18,1190.93 L1504.05,1190.22 L1505.91,1189.50 L1507.77,1188.77 L1509.62,1188.01 L1511.46,1187.21 L1513.27,1186.37 L1515.07,1185.50 L1516.86,1184.61 L1518.64,1183.69 L1520.40,1182.74 L1522.15,1181.78 L1523.90,1180.81 L1525.64,1179.82 L1527.37,1178.82 L1529.09,1177.81 L1530.82,1176.79 L1532.54,1175.77 L1534.26,1174.75 L1535.98,1173.73 L1537.70,1172.71 L1539.42,1171.69 L1541.15,1170.68 L1542.87,1169.66 L1544.58,1168.63 L1546.29,1167.59 L1547.99,1166.54 L1549.69,1165.49 L1551.39,1164.42 L1553.08,1163.35 L1554.76,1162.28 L1556.45,1161.20 L1558.13,1160.12 L1559.81,1159.04 L1561.50,1157.96 L1563.18,1156.88 L1564.86,1155.80 L1566.55,1154.73 L1568.24,1153.66 L1569.93,1152.59 L1571.63,1151.53 L1573.33,1150.48 L1575.03,1149.43 L1576.73,1148.38 L1578.43,1147.33 L1580.13,1146.27 L1581.83,1145.21 L1583.53,1144.16 L1585.23,1143.10 L1586.93,1142.05 L1588.63,1141.00 L1590.33,1139.95 L1592.04,1138.90 L1593.75,1137.87 L1595.46,1136.84 L1597.18,1135.82 L1598.91,1134.80 L1600.64,1133.80 L1602.38,1132.81 L1604.12,1131.84 L1605.87,1130.87 L1607.64,1129.93 L1609.40,1128.99 L1611.18,1128.06 L1612.95,1127.14 L1614.73,1126.23 L1616.51,1125.32 L1618.30,1124.42 L1620.09,1123.54 L1621.89,1122.66 L1623.69,1121.80 L1625.51,1120.95 L1627.32,1120.11 L1629.15,1119.29 L1630.98,1118.49 L1632.81,1117.70 L1634.66,1116.93 L1636.51,1116.18 L1638.38,1115.45 L1640.25,1114.74 L1642.13,1114.06 L1644.02,1113.40 L1645.91,1112.77 L1647.82,1112.16 L1649.73,1111.57 L1651.65,1111.01 L1653.57,1110.46 L1655.50,1109.94 L1657.44,1109.43 L1659.38,1108.94 L1661.32,1108.46 L1663.26,1107.99 L1665.21,1107.54 L1667.16,1107.09 L1669.11,1106.66 L1671.07,1106.23 L1673.02,1105.80 L1674.97,1105.38 L1676.93,1104.97 L1678.89,1104.57 L1680.86,1104.20 L1682.82,1103.83 L1684.79,1103.48 L1686.76,1103.15 L1688.74,1102.82 L1690.71,1102.50 L1692.69,1102.19 L1694.66,1101.89 L1696.64,1101.60 L1698.62,1101.31 L1700.60,1101.02 L1702.58,1100.74 L1704.56,1100.46 L1706.54,1100.18 L1708.52,1099.90 L1710.50,1099.63 L1712.49,1099.37 L1714.47,1099.11 L1716.46,1098.87 L1718.44,1098.62 L1720.43,1098.39 L1722.41,1098.16 L1724.40,1097.93 L1726.39,1097.70 L1728.37,1097.48 L1730.36,1097.26 L1732.35,1097.04 L1734.34,1096.82 L1736.33,1096.60 L1738.31,1096.38 L1739.00,1096.30" fill="none" stroke="#1A6BDD" stroke-width="7.0" stroke-linejoin="round" stroke-linecap="round"/><path d="M132.50,1236.00 L133.41,1237.78 L134.27,1239.59 L135.06,1241.43 L135.82,1243.28 L136.56,1245.13 L137.30,1246.99 L138.01,1248.86 L138.75,1250.72 L139.74,1252.45 L140.89,1254.09 L142.13,1255.66 L143.48,1257.13 L144.97,1258.47 L146.54,1259.70 L148.20,1260.82 L149.94,1261.80 L151.78,1262.58 L153.67,1263.23 L155.57,1263.86 L157.49,1264.42 L159.44,1264.89 L161.40,1265.25 L163.38,1265.56 L165.36,1265.82 L167.35,1266.05 L169.34,1266.28 L171.32,1266.49 L173.31,1266.68 L175.31,1266.85 L177.30,1267.01 L179.29,1267.17 L181.29,1267.34 L183.28,1267.51 L185.27,1267.67 L187.27,1267.84 L189.26,1268.01 L191.25,1268.19 L193.24,1268.36 L195.24,1268.53 L197.23,1268.70 L199.22,1268.87 L201.21,1269.05 L203.21,1269.22 L205.20,1269.39 L207.19,1269.56 L209.19,1269.73 L211.18,1269.90 L213.17,1270.07 L215.16,1270.24 L217.16,1270.41 L219.15,1270.58 L221.14,1270.75 L223.14,1270.91 L225.13,1271.08 L227.12,1271.25 L229.11,1271.41 L231.11,1271.58 L233.10,1271.74 L235.09,1271.90 L237.09,1272.06 L239.08,1272.22 L241.08,1272.38 L243.07,1272.54 L245.06,1272.69 L247.06,1272.84 L249.05,1272.99 L251.05,1273.14 L253.04,1273.29 L255.04,1273.44 L257.03,1273.59 L259.02,1273.73 L261.02,1273.87 L263.01,1274.02 L265.01,1274.16 L267.00,1274.30 L269.00,1274.44 L270.99,1274.58 L272.99,1274.72 L274.99,1274.86 L276.98,1275.00 L278.98,1275.13 L280.97,1275.27 L282.97,1275.41 L284.96,1275.54 L286.96,1275.68 L288.95,1275.82 L290.95,1275.95 L292.94,1276.09 L294.94,1276.23 L296.93,1276.36 L298.93,1276.50 L300.92,1276.64 L302.92,1276.77 L304.91,1276.91 L306.91,1277.05 L308.91,1277.18 L310.90,1277.32 L312.90,1277.45 L314.89,1277.59 L316.89,1277.72 L318.88,1277.86 L320.88,1277.99 L322.87,1278.12 L324.87,1278.26 L326.86,1278.39 L328.86,1278.52 L330.86,1278.66 L332.85,1278.79 L334.85,1278.92 L336.84,1279.05 L338.84,1279.19 L340.83,1279.32 L342.83,1279.45 L344.83,1279.58 L346.82,1279.72 L348.82,1279.85 L350.81,1279.98 L352.81,1280.12 L354.80,1280.25 L356.80,1280.39 L358.79,1280.52 L360.79,1280.66 L362.78,1280.80 L364.78,1280.94 L366.77,1281.08 L368.77,1281.22 L370.76,1281.36 L372.76,1281.51 L374.75,1281.65 L376.75,1281.80 L378.74,1281.96 L380.73,1282.13 L382.73,1282.30 L384.72,1282.48 L386.71,1282.65 L388.70,1282.84 L390.69,1283.03 L392.68,1283.23 L394.67,1283.44 L396.66,1283.65 L398.65,1283.87 L400.64,1284.10 L402.62,1284.33 L404.61,1284.58 L406.59,1284.85 L408.57,1285.14 L410.55,1285.43 L412.53,1285.70 L414.51,1285.95 L416.50,1286.17 L418.49,1286.40 L420.48,1286.62 L422.47,1286.82 L424.46,1286.98 L426.45,1287.12 L428.45,1287.23 L430.45,1287.32 L432.45,1287.38 L434.45,1287.42 L436.45,1287.44 L438.45,1287.45 L440.45,1287.46 L442.45,1287.48 L444.45,1287.50 L446.45,1287.54 L448.45,1287.58 L450.45,1287.62 L452.45,1287.67 L454.44,1287.73 L456.44,1287.79 L458.44,1287.85 L460.44,1287.91 L462.44,1287.98 L464.44,1288.05 L466.44,1288.12 L468.44,1288.19 L470.44,1288.26 L472.43,1288.33 L474.43,1288.40 L476.43,1288.48 L478.43,1288.55 L480.43,1288.62 L482.43,1288.70 L484.43,1288.77 L486.42,1288.84 L488.42,1288.92 L490.42,1288.99 L492.42,1289.07 L494.42,1289.14 L496.42,1289.22 L498.42,1289.29 L500.42,1289.37 L502.41,1289.44 L504.41,1289.52 L506.41,1289.59 L508.41,1289.67 L510.41,1289.74 L512.41,1289.82 L514.41,1289.90 L516.40,1289.97 L518.40,1290.05 L520.40,1290.12 L522.40,1290.20 L524.40,1290.27 L526.40,1290.35 L528.40,1290.43 L530.39,1290.50 L532.39,1290.58 L534.39,1290.65 L536.39,1290.73 L538.39,1290.81 L540.39,1290.88 L542.39,1290.96 L544.38,1291.03 L546.38,1291.11 L548.38,1291.18 L550.38,1291.26 L552.38,1291.33 L554.38,1291.41 L556.38,1291.48 L558.37,1291.55 L560.37,1291.63 L562.37,1291.70 L564.37,1291.77 L566.37,1291.84 L568.37,1291.91 L570.37,1291.98 L572.37,1292.05 L574.36,1292.12 L576.36,1292.18 L578.36,1292.25 L580.36,1292.32 L582.36,1292.38 L584.36,1292.45 L586.36,1292.51 L588.36,1292.58 L590.36,1292.65 L592.35,1292.71 L594.35,1292.78 L596.35,1292.84 L598.35,1292.91 L600.35,1292.98 L602.35,1293.04 L604.35,1293.11 L606.35,1293.18 L608.35,1293.25 L610.34,1293.32 L612.34,1293.39 L614.34,1293.46 L616.34,1293.53 L618.34,1293.60 L620.34,1293.67 L622.34,1293.75 L624.33,1293.82 L626.33,1293.90 L628.33,1293.98 L630.33,1294.06 L632.33,1294.14 L634.33,1294.22 L636.33,1294.30 L638.32,1294.39 L640.32,1294.47 L642.32,1294.56 L644.32,1294.65 L646.32,1294.74 L648.31,1294.84 L650.31,1294.93 L652.31,1295.03 L654.31,1295.13 L656.30,1295.23 L658.30,1295.33 L660.30,1295.43 L662.30,1295.54 L664.29,1295.64 L666.29,1295.74 L668.29,1295.85 L670.28,1295.95 L672.28,1296.06 L674.28,1296.17 L676.28,1296.27 L678.27,1296.38 L680.27,1296.49 L682.27,1296.60 L684.26,1296.71 L686.26,1296.82 L688.26,1296.93 L690.25,1297.05 L692.25,1297.16 L694.25,1297.28 L696.25,1297.39 L698.24,1297.51 L700.24,1297.63 L702.23,1297.75 L704.23,1297.87 L706.23,1297.99 L708.22,1298.11 L710.22,1298.24 L712.22,1298.36 L714.21,1298.49 L716.21,1298.62 L718.20,1298.75 L720.20,1298.88 L722.19,1299.01 L724.19,1299.15 L726.19,1299.29 L728.18,1299.43 L730.18,1299.57 L732.17,1299.71 L734.16,1299.86 L736.16,1300.01 L738.15,1300.16 L740.15,1300.32 L742.14,1300.47 L744.13,1300.64 L746.13,1300.81 L748.12,1300.98 L750.11,1301.16 L752.10,1301.34 L754.09,1301.53 L756.08,1301.73 L758.07,1301.94 L760.06,1302.16 L762.05,1302.39 L764.03,1302.63 L766.02,1302.88 L768.00,1303.14 L769.98,1303.41 L771.96,1303.69 L773.94,1303.98 L775.92,1304.28 L777.89,1304.59 L779.87,1304.92 L781.84,1305.25 L783.81,1305.60 L785.78,1305.95 L787.75,1306.31 L789.71,1306.67 L791.68,1307.04 L793.64,1307.41 L795.61,1307.78 L797.58,1308.14 L799.54,1308.50 L801.51,1308.86 L803.48,1309.23 L805.44,1309.62 L807.39,1310.04 L809.34,1310.48 L811.28,1310.97 L813.22,1311.49 L815.14,1312.04 L817.05,1312.62 L818.97,1313.19 L820.88,1313.76 L822.79,1314.36 L824.70,1314.98 L826.59,1315.62 L828.48,1316.27 L830.36,1316.94 L832.24,1317.62 L834.12,1318.31 L836.00,1319.01 L837.87,1319.71 L839.75,1320.41 L841.62,1321.09 L843.51,1321.76 L845.40,1322.41 L847.29,1323.08 L849.16,1323.78 L851.02,1324.52 L852.85,1325.32 L854.64,1326.20 L856.40,1327.15 L858.13,1328.16 L859.83,1329.21 L861.51,1330.31 L863.16,1331.43 L864.79,1332.59 L866.41,1333.76 L868.01,1334.96 L869.61,1336.16 L871.20,1337.38 L872.78,1338.61 L874.35,1339.84 L875.91,1341.09 L877.46,1342.35 L879.00,1343.63 L880.52,1344.94 L882.01,1346.27 L883.48,1347.62 L884.92,1349.01 L886.33,1350.43 L887.69,1351.90 L889.01,1353.39 L890.31,1354.92 L891.57,1356.47 L892.81,1358.04 L894.02,1359.63 L895.22,1361.23 L896.40,1362.84 L897.58,1364.46 L898.75,1366.09 L899.91,1367.71 L901.06,1369.35 L902.19,1371.00 L903.29,1372.67 L904.37,1374.36 L905.41,1376.06 L906.41,1377.80 L907.37,1379.55 L908.27,1381.33 L909.13,1383.14 L909.94,1384.97 L910.70,1386.82 L911.43,1388.68 L912.13,1390.56 L912.80,1392.44 L913.46,1394.33 L914.11,1396.22 L914.74,1398.12 L915.34,1400.03 L915.91,1401.94 L916.47,1403.86 L917.02,1405.79 L917.55,1407.71 L918.08,1409.64 L918.60,1411.57 L919.12,1413.51 L919.62,1415.44 L920.12,1417.38 L920.60,1419.32 L921.08,1421.26 L921.56,1423.20 L922.03,1425.15 L922.50,1427.09 L922.98,1429.03 L923.45,1430.98 L923.93,1432.92 L924.41,1434.86 L924.89,1436.80 L925.37,1438.74 L925.86,1440.68 L926.34,1442.62 L926.82,1444.56 L927.30,1446.51 L927.78,1448.45 L928.27,1450.39 L928.75,1452.33 L929.24,1454.27 L929.73,1456.20 L930.23,1458.14 L930.72,1460.08 L931.23,1462.02 L931.74,1463.95 L932.27,1465.88 L932.77,1467.81 L933.24,1469.76 L933.76,1471.69 L934.95,1473.01 L936.19,1471.49 L937.03,1469.68 L937.72,1467.80 L938.28,1465.88 L938.78,1463.94 L939.26,1462.00 L939.73,1460.06 L940.23,1458.12 L940.73,1456.18 L941.21,1454.24 L941.68,1452.30 L942.12,1450.35 L942.54,1448.39 L942.96,1446.44 L943.38,1444.48 L943.79,1442.52 L944.19,1440.57 L944.59,1438.61 L944.98,1436.64 L945.37,1434.68 L945.75,1432.72 L946.12,1430.75 L946.48,1428.79 L946.83,1426.82 L947.16,1424.84 L947.49,1422.87 L947.81,1420.90 L948.13,1418.92 L948.44,1416.95 L948.75,1414.97 L949.06,1413.00 L949.37,1411.02 L949.67,1409.04 L949.98,1407.07 L950.29,1405.09 L950.60,1403.12 L950.92,1401.14 L951.23,1399.16 L951.54,1397.19 L951.85,1395.21 L952.16,1393.24 L952.47,1391.26 L952.78,1389.29 L953.09,1387.31 L953.40,1385.33 L953.72,1383.36 L954.04,1381.39 L954.36,1379.41 L954.69,1377.44 L955.03,1375.47 L955.37,1373.50 L955.71,1371.53 L956.05,1369.56 L956.40,1367.59 L956.75,1365.62 L957.11,1363.65 L957.47,1361.68 L957.83,1359.72 L958.21,1357.75 L958.60,1355.79 L959.00,1353.83 L959.41,1351.87 L959.85,1349.92 L960.31,1347.98 L960.81,1346.04 L961.35,1344.11 L961.94,1342.20 L962.55,1340.30 L963.21,1338.41 L963.95,1336.55 L964.80,1334.74 L965.79,1333.01 L966.79,1331.27 L967.90,1329.61 L969.23,1328.12 L970.85,1326.95 L972.64,1326.06 L974.51,1325.35 L976.43,1324.80 L978.39,1324.39 L980.36,1324.09 L982.35,1323.88 L984.35,1323.75 L986.35,1323.70 L988.35,1323.72 L990.35,1323.77 L992.34,1323.86 L994.34,1323.96 L996.34,1324.08 L998.33,1324.22 L1000.33,1324.35 L1002.32,1324.49 L1004.32,1324.63 L1006.31,1324.78 L1008.30,1324.97 L1010.29,1325.18 L1012.28,1325.41 L1014.27,1325.64 L1016.26,1325.86 L1018.25,1326.05 L1020.24,1326.22 L1022.23,1326.35 L1024.23,1326.46 L1026.23,1326.54 L1028.23,1326.62 L1030.23,1326.70 L1032.22,1326.80 L1034.22,1326.92 L1036.22,1327.06 L1038.21,1327.21 L1040.20,1327.40 L1042.19,1327.60 L1044.18,1327.82 L1046.16,1328.06 L1048.15,1328.30 L1050.13,1328.54 L1052.12,1328.80 L1054.10,1329.05 L1056.09,1329.31 L1058.07,1329.58 L1060.05,1329.85 L1062.03,1330.12 L1064.01,1330.40 L1065.99,1330.68 L1067.97,1330.96 L1069.95,1331.25 L1071.93,1331.54 L1073.91,1331.84 L1075.88,1332.14 L1077.86,1332.45 L1079.84,1332.76 L1081.81,1333.07 L1083.79,1333.39 L1085.76,1333.72 L1087.73,1334.05 L1089.70,1334.40 L1091.67,1334.75 L1093.64,1335.11 L1095.60,1335.47 L1097.57,1335.85 L1099.53,1336.23 L1101.49,1336.61 L1103.46,1337.00 L1105.42,1337.39 L1107.38,1337.79 L1109.34,1338.19 L1111.30,1338.60 L1113.25,1339.00 L1115.21,1339.41 L1117.17,1339.82 L1119.13,1340.23 L1121.09,1340.64 L1123.04,1341.04 L1125.00,1341.45 L1126.96,1341.86 L1128.92,1342.26 L1130.88,1342.65 L1132.84,1343.05 L1134.80,1343.44 L1136.76,1343.85 L1138.72,1344.25 L1140.68,1344.66 L1142.63,1345.07 L1144.59,1345.49 L1146.55,1345.90 L1148.50,1346.31 L1150.46,1346.72 L1152.42,1347.12 L1154.38,1347.52 L1156.34,1347.91 L1158.31,1348.29 L1160.27,1348.65 L1162.24,1349.01 L1164.21,1349.35 L1166.18,1349.68 L1168.16,1349.99 L1170.14,1350.30 L1172.11,1350.59 L1174.09,1350.87 L1176.08,1351.14 L1178.06,1351.40 L1180.04,1351.66 L1182.03,1351.91 L1184.01,1352.16 L1186.00,1352.40 L1187.98,1352.64 L1189.97,1352.88 L1191.95,1353.13 L1193.94,1353.37 L1195.92,1353.62 L1197.91,1353.88 L1199.89,1354.13 L1201.87,1354.38 L1203.86,1354.64 L1205.84,1354.89 L1207.82,1355.15 L1209.81,1355.40 L1211.79,1355.66 L1213.78,1355.91 L1215.76,1356.16 L1217.74,1356.41 L1219.73,1356.67 L1221.71,1356.92 L1223.70,1357.16 L1225.68,1357.41 L1227.67,1357.66 L1229.65,1357.90 L1231.64,1358.15 L1233.62,1358.39 L1235.61,1358.63 L1237.59,1358.86 L1239.58,1359.10 L1241.57,1359.33 L1243.55,1359.56 L1245.54,1359.79 L1247.53,1360.03 L1249.51,1360.27 L1251.50,1360.51 L1253.48,1360.75 L1255.47,1360.99 L1257.45,1361.22 L1259.44,1361.44 L1261.43,1361.64 L1263.42,1361.83 L1265.41,1362.01 L1267.41,1362.17 L1269.40,1362.32 L1271.40,1362.46 L1273.39,1362.59 L1275.39,1362.71 L1277.39,1362.82 L1279.38,1362.92 L1281.38,1363.02 L1283.38,1363.11 L1285.38,1363.19 L1287.38,1363.27 L1289.37,1363.35 L1291.37,1363.43 L1293.37,1363.50 L1295.37,1363.56 L1297.37,1363.63 L1299.37,1363.69 L1301.37,1363.76 L1303.37,1363.82 L1305.37,1363.87 L1307.37,1363.93 L1309.36,1363.98 L1311.36,1364.04 L1313.36,1364.09 L1315.36,1364.14 L1317.36,1364.19 L1319.36,1364.24 L1321.36,1364.29 L1323.36,1364.34 L1325.36,1364.39 L1327.36,1364.43 L1329.36,1364.48 L1331.36,1364.53 L1333.36,1364.57 L1335.36,1364.61 L1337.36,1364.65 L1339.36,1364.69 L1341.36,1364.72 L1343.36,1364.75 L1345.36,1364.78 L1347.36,1364.81 L1349.36,1364.83 L1351.36,1364.85 L1353.36,1364.87 L1355.36,1364.89 L1357.36,1364.91 L1359.36,1364.92 L1361.35,1364.94 L1363.35,1364.95 L1365.35,1364.96 L1367.35,1364.97 L1369.35,1364.98 L1371.35,1364.99 L1373.35,1365.00 L1375.35,1365.00 L1377.35,1365.01 L1379.35,1365.02 L1381.35,1365.02 L1383.35,1365.02 L1385.35,1365.02 L1387.35,1365.01 L1389.35,1365.00 L1391.35,1364.98 L1393.35,1364.96 L1395.35,1364.94 L1397.35,1364.92 L1399.35,1364.90 L1401.35,1364.87 L1403.35,1364.85 L1405.35,1364.82 L1407.35,1364.79 L1409.35,1364.77 L1411.35,1364.75 L1413.35,1364.73 L1415.35,1364.72 L1417.35,1364.70 L1419.35,1364.68 L1421.35,1364.67 L1423.35,1364.66 L1425.35,1364.64 L1427.35,1364.63 L1429.35,1364.61 L1431.35,1364.59 L1433.35,1364.58 L1435.35,1364.56 L1437.35,1364.54 L1439.35,1364.52 L1441.35,1364.50 L1443.35,1364.48 L1445.35,1364.45 L1447.35,1364.43 L1449.35,1364.40 L1451.35,1364.37 L1453.35,1364.33 L1455.35,1364.29 L1457.35,1364.25 L1459.35,1364.21 L1461.35,1364.16 L1463.35,1364.11 L1465.35,1364.05 L1467.35,1363.98 L1469.34,1363.90 L1471.34,1363.82 L1473.34,1363.72 L1475.34,1363.61 L1477.33,1363.49 L1479.33,1363.36 L1481.32,1363.22 L1483.32,1363.06 L1485.31,1362.89 L1487.30,1362.69 L1489.29,1362.48 L1491.27,1362.23 L1493.26,1361.96 L1495.23,1361.66 L1497.21,1361.32 L1499.17,1360.96 L1501.14,1360.58 L1503.09,1360.18 L1505.05,1359.76 L1507.01,1359.34 L1508.96,1358.91 L1510.90,1358.44 L1512.84,1357.95 L1514.78,1357.44 L1516.70,1356.90 L1518.62,1356.35 L1520.54,1355.78 L1522.45,1355.19 L1524.36,1354.59 L1526.27,1353.98 L1528.17,1353.36 L1530.07,1352.73 L1531.96,1352.10 L1533.86,1351.46 L1535.75,1350.83 L1537.65,1350.19 L1539.55,1349.55 L1541.44,1348.92 L1543.34,1348.27 L1545.22,1347.61 L1547.11,1346.94 L1548.99,1346.27 L1550.87,1345.58 L1552.75,1344.89 L1554.62,1344.19 L1556.49,1343.49 L1558.37,1342.79 L1560.24,1342.08 L1562.11,1341.38 L1563.98,1340.68 L1565.86,1339.98 L1567.73,1339.29 L1569.61,1338.60 L1571.49,1337.92 L1573.38,1337.25 L1575.27,1336.60 L1577.16,1335.96 L1579.07,1335.34 L1580.97,1334.74 L1582.88,1334.15 L1584.80,1333.57 L1586.71,1332.99 L1588.63,1332.41 L1590.54,1331.83 L1592.45,1331.24 L1594.36,1330.64 L1596.26,1330.02 L1598.16,1329.38 L1600.04,1328.73 L1601.92,1328.04 L1603.79,1327.33 L1605.65,1326.58 L1607.49,1325.80 L1609.31,1324.98 L1611.11,1324.11 L1612.90,1323.20 L1614.66,1322.26 L1616.41,1321.29 L1618.15,1320.30 L1619.88,1319.30 L1621.60,1318.29 L1623.33,1317.27 L1625.05,1316.25 L1626.77,1315.24 L1628.50,1314.24 L1630.24,1313.25 L1631.99,1312.28 L1633.75,1311.34 L1635.53,1310.42 L1637.33,1309.55 L1639.16,1308.73 L1641.00,1307.96 L1642.87,1307.24 L1644.75,1306.56 L1646.64,1305.92 L1648.55,1305.32 L1650.47,1304.74 L1652.39,1304.20 L1654.32,1303.69 L1656.26,1303.19 L1658.21,1302.72 L1660.15,1302.27 L1662.10,1301.83 L1664.06,1301.39 L1666.01,1300.97 L1667.97,1300.54 L1669.92,1300.11 L1671.87,1299.68 L1673.82,1299.23 L1675.77,1298.78 L1677.72,1298.33 L1679.67,1297.89 L1681.62,1297.45 L1683.57,1297.01 L1685.53,1296.58 L1687.48,1296.16 L1689.44,1295.75 L1691.40,1295.34 L1693.36,1294.95 L1695.32,1294.56 L1697.28,1294.19 L1699.25,1293.82 L1701.22,1293.47 L1703.19,1293.13 L1705.16,1292.81 L1707.14,1292.50 L1709.12,1292.21 L1711.10,1291.95 L1713.09,1291.71 L1715.07,1291.49 L1717.06,1291.28 L1719.05,1291.09 L1721.05,1290.91 L1723.04,1290.73 L1725.03,1290.57 L1727.03,1290.41 L1729.02,1290.26 L1731.01,1290.11 L1733.01,1289.96 L1735.00,1289.82 L1737.00,1289.67 L1738.99,1289.50 L1739.00,1289.50" fill="none" stroke="#FF0000" stroke-width="7.0" stroke-linejoin="round" stroke-linecap="round"/>
<line x1="842.3" y1="126.3" x2="801.3" y2="158.0" stroke="#000" stroke-width="3.6"/><polygon points="775.2,178.2 797.4,149.7 808.4,163.9" fill="#000"/><line x1="1360.3" y1="247.4" x2="1360.3" y2="311.8" stroke="#000" stroke-width="3.6"/><polygon points="1360.3,347.8 1350.8,309.8 1369.8,309.8" fill="#000"/><line x1="330.1" y1="417.5" x2="304.6" y2="459.8" stroke="#000" stroke-width="3.6"/><polygon points="287.5,488.0 297.9,453.4 313.3,462.7" fill="#000"/><line x1="909.9" y1="550.4" x2="909.9" y2="614.9" stroke="#000" stroke-width="3.6"/><polygon points="909.9,650.9 900.4,612.9 919.4,612.9" fill="#000"/><line x1="471.4" y1="773.7" x2="446.5" y2="813.9" stroke="#000" stroke-width="3.6"/><polygon points="429.1,842.0 439.9,807.5 455.2,817.0" fill="#000"/><line x1="936.8" y1="867.6" x2="936.8" y2="931.2" stroke="#000" stroke-width="3.6"/><polygon points="936.8,967.2 927.3,929.2 946.3,929.2" fill="#000"/><line x1="1377.9" y1="838.7" x2="1377.9" y2="904.2" stroke="#000" stroke-width="3.6"/><polygon points="1377.9,940.2 1368.4,902.2 1387.4,902.2" fill="#000"/><line x1="457.5" y1="1025.9" x2="432.8" y2="1066.6" stroke="#000" stroke-width="3.6"/><polygon points="415.7,1094.8 426.2,1060.2 441.5,1069.5" fill="#000"/><line x1="937.9" y1="1105.6" x2="937.9" y2="1169.5" stroke="#000" stroke-width="3.6"/><polygon points="937.9,1205.5 928.4,1167.5 947.4,1167.5" fill="#000"/><line x1="1377.8" y1="1091.2" x2="1377.8" y2="1155.5" stroke="#000" stroke-width="3.6"/><polygon points="1377.8,1191.5 1368.3,1153.5 1387.3,1153.5" fill="#000"/><line x1="456.9" y1="1207.1" x2="431.4" y2="1247.9" stroke="#000" stroke-width="3.6"/><polygon points="413.9,1275.9 424.8,1241.5 440.1,1251.0" fill="#000"/><line x1="937.9" y1="1318.4" x2="937.9" y2="1383.4" stroke="#000" stroke-width="3.6"/><polygon points="937.9,1419.4 928.4,1381.4 947.4,1381.4" fill="#000"/><line x1="1377.4" y1="1252.3" x2="1377.4" y2="1322.2" stroke="#000" stroke-width="3.6"/><polygon points="1377.4,1358.2 1367.9,1320.2 1386.9,1320.2" fill="#000"/><line x1="1783.7" y1="729.4" x2="1783.7" y2="879.0" stroke="#000" stroke-width="4.0"/><polygon points="1783.7,919.0 1774.2,877.0 1793.2,877.0" fill="#000"/>

<text x="140" y="211.9" class="lb" textLength="88.5" lengthAdjust="spacingAndGlyphs"><tspan font-weight="normal">ε</tspan>-LP</text>
<text x="144.5" y="554.5" class="lb" textLength="303.7" lengthAdjust="spacingAndGlyphs">4-arm-PEG-Mal</text>
<text x="145.7" y="892.2" class="lb" textLength="129.5" lengthAdjust="spacingAndGlyphs">DLG-3</text>
<text x="148.3" y="1143" class="lb" textLength="129.7" lengthAdjust="spacingAndGlyphs">DLG-7</text>
<text x="146.3" y="1328.1" class="lb" textLength="149.7" lengthAdjust="spacingAndGlyphs">DLG-11</text>
<text x="850" y="113.1" class="tt">T<tspan class="sub" dy="10.5">g</tspan></text>
<text x="1334" y="196.7" class="tt">T<tspan class="sub" dy="10.5">n</tspan></text>
<text x="340.5" y="414" class="tt">T<tspan class="sub" dy="10">g</tspan></text>
<text x="873.5" y="510.1" class="tt">T<tspan class="sub" dy="10">m</tspan></text>
<text x="696" y="1727.4" class="xt">Temperature /°C</text>
<text transform="translate(68,917) rotate(-90) scale(0.949,1)" class="yt">Heat Flow/W g<tspan class="sup" dy="-25" dx="-4">−</tspan><tspan class="sup" dx="-5">1</tspan></text>
<text transform="translate(1798,719) rotate(-90)" class="endo">Endo</text>

</svg>
</body></html>
